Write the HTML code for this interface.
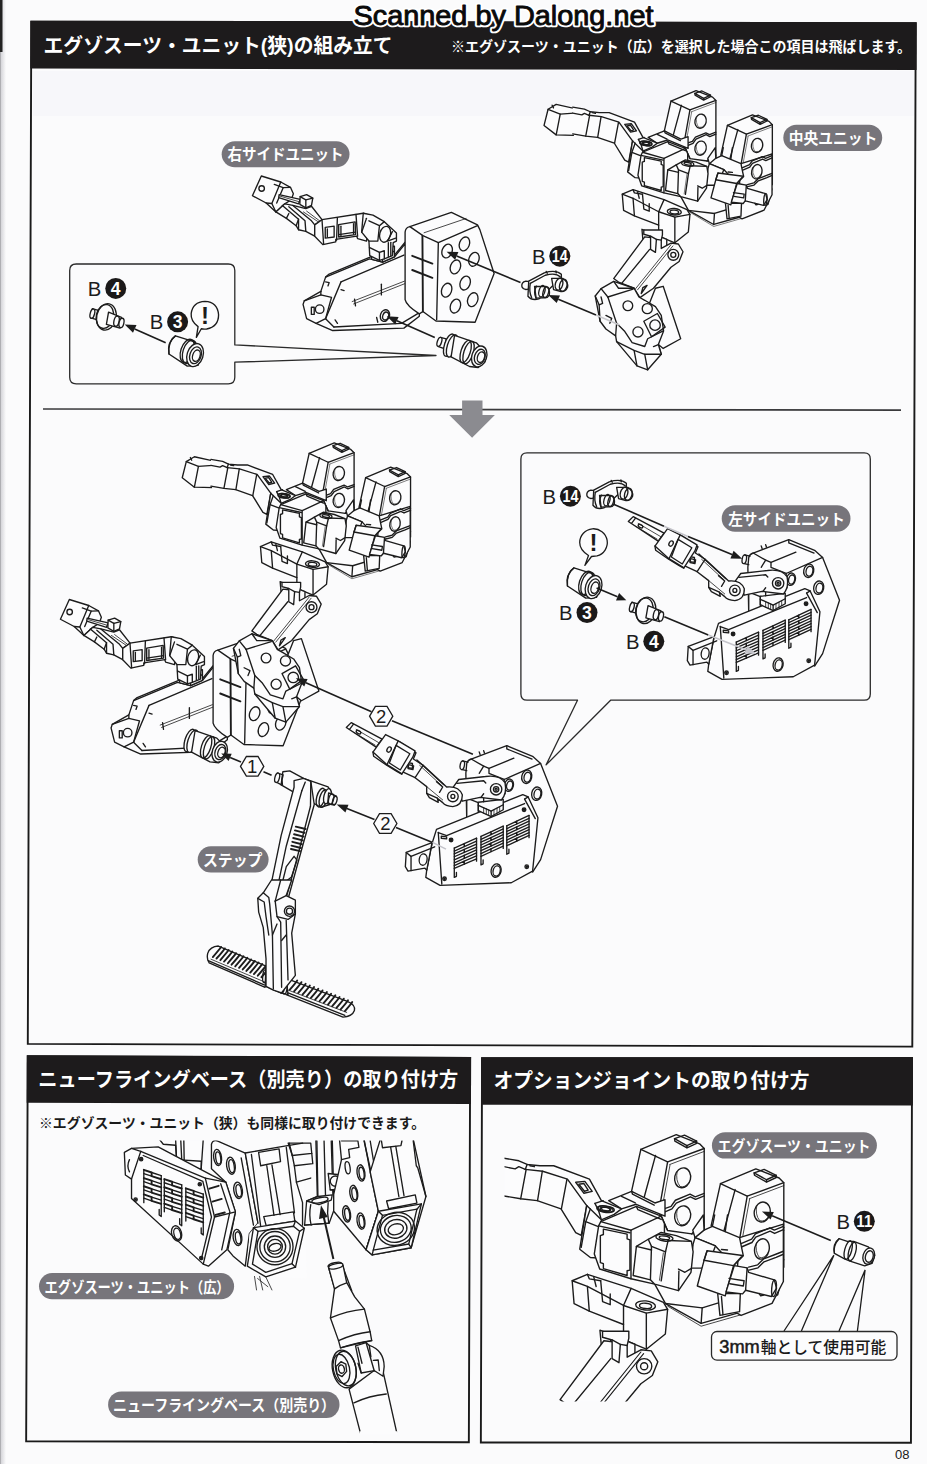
<!DOCTYPE html>
<html lang="ja"><head><meta charset="utf-8"><title>Scanned by Dalong.net - 08</title>
<style>
html,body{margin:0;padding:0;background:#fbfbfc;}
body{width:927px;height:1464px;overflow:hidden;font-family:"Liberation Sans",sans-serif;}
#page{position:relative;width:927px;height:1464px;overflow:hidden;}
#page svg{position:absolute;left:0;top:0;display:block}
#page svg text.j{font-family:"Liberation Sans","Noto Sans CJK JP",sans-serif;font-weight:bold}
#page svg text.l{font-family:"Liberation Sans",sans-serif}
#txt div{position:absolute;white-space:nowrap;color:transparent;line-height:1;font-family:"Liberation Sans",sans-serif;pointer-events:none}
</style></head><body>
<div id="page">
<svg width="927" height="1464" viewBox="0 0 927 1464" font-family="Liberation Sans, sans-serif">
<rect width="927" height="1464" fill="#fbfbfc"/>
<defs><linearGradient id="lg" x1="0" x2="1" y1="0" y2="0"><stop offset="0" stop-color="#9a9a9e"/><stop offset="0.25" stop-color="#d9d9dd"/><stop offset="1" stop-color="#fbfbfc"/></linearGradient></defs>
<rect x="0" y="0" width="6" height="1464" fill="url(#lg)"/>
<rect x="0" y="0" width="2.5" height="52" fill="#222"/>
<rect x="33" y="71" width="881" height="45" fill="#f7f7fa"/>
<polygon points="31.3,21.6 915.7,23.2 912.3,1046.6 27.8,1043.9" fill="none" stroke="#1a1a1a" stroke-width="1.9" stroke-linejoin="miter"/>
<polygon points="30.4,20.7 916.7,22.3 916.55,70.1 30.25,68.6" fill="#1d1b1c"/>
<line x1="43" y1="409.0" x2="901" y2="410.1" stroke="#3a3a3c" stroke-width="1.7"/>
<polygon points="462.1,400.4 482.5,400.4 482.5,415 494.9,415 472.1,437.8 449.2,415 462.1,415" fill="#8b8b90"/>
<polygon points="27.75,1056.2 470.15,1057.9 468.85,1442.3 26.15,1441.3" fill="none" stroke="#1a1a1a" stroke-width="1.9"/>
<polygon points="26.8,1055.2 471.1,1056.9 471.0,1104.1 26.7,1102.8" fill="#1d1b1c"/>
<polygon points="482.05,1058.2 912.05,1058.1 910.95,1442.7 480.85,1442.5" fill="none" stroke="#1a1a1a" stroke-width="1.9"/>
<polygon points="481.1,1057.2 913.0,1057.1 912.9,1105.5 481.0,1104.8" fill="#1d1b1c"/>
<text class="j" x="43.5" y="52.5" font-size="20" fill="#fff" textLength="349" lengthAdjust="spacingAndGlyphs">エグゾスーツ・ユニット(狭)の組み立て</text>
<text class="j" x="451" y="51.9" font-size="14.3" fill="#fff" textLength="460" lengthAdjust="spacingAndGlyphs">※エグゾスーツ・ユニット（広）を選択した場合この項目は飛ばします。</text>
<text class="j" x="38.3" y="1087.2" font-size="20.5" fill="#fff" textLength="420" lengthAdjust="spacingAndGlyphs">ニューフライングベース（別売り）の取り付け方</text>
<text class="j" x="493.5" y="1087.6" font-size="20.5" fill="#fff" textLength="316" lengthAdjust="spacingAndGlyphs">オプションジョイントの取り付け方</text>
<text class="j" x="39" y="1128.4" font-size="14.1" fill="#1a1a1a" textLength="386" lengthAdjust="spacingAndGlyphs">※エグゾスーツ・ユニット（狭）も同様に取り付けできます。</text>
<g transform="translate(290,200) scale(0.23732)" fill="none" stroke="#1c1c1c" stroke-width="5.69" stroke-linejoin="round" stroke-linecap="round">
<path d="M150,325 L335,248 L345,250 L390,262 L440,240 L485,185 L545,300 L545,490 L480,540 L180,550 L110,520 L70,500 L55,440 L60,425 L130,385 Z" fill="#fcfcfd"/>
<path d="M150,325 L165,312 L340,240"/>
<path d="M440,232 L485,178"/>
<path d="M215,345 L150,500 L110,520"/>
<path d="M215,345 L480,232"/>
<path d="M185,535 L470,520 L540,478"/>
<path d="M150,500 L185,535"/>
<path d="M60,425 L130,400 L175,410 L150,500"/>
<path d="M130,385 L130,400"/>
<circle cx="125" cy="460" r="18" fill="none"/>
<path d="M90,452 L102,452 L102,482 L90,482 Z"/>
<path d="M150,345 L165,348 L160,362"/>
<path d="M262,428 L482,342 M268,438 L485,352" stroke-width="3.37"/>
<path d="M385,355 L385,400"/>
<path d="M272,418 L276,446"/>
<ellipse cx="400" cy="487" rx="19" ry="25" transform="rotate(20 400 487)" fill="none"/>
<ellipse cx="403" cy="489" rx="12" ry="17" transform="rotate(20 403 489)" fill="none"/>
<path d="M215,378 L228,382"/>
<path d="M190,505 L200,520"/>
<path d="M365,495 L370,515"/>
<path d="M335,200 L345,250 L390,262 L440,240 L440,195 Z" fill="#fcfcfd"/>
<path d="M345,225 L390,238 L440,215"/>
<path d="M390,238 L390,262"/>
<path d="M485,135 Q487,115 505,112 L680,52 L790,105 L800,125 L860,310 L780,515 L615,510 L560,470 L545,480 Q490,445 485,420 Z" fill="#fcfcfd"/>
<path d="M558,150 L560,470" stroke-width="8.01"/>
<path d="M505,112 L560,150 L625,180 L790,108"/>
<path d="M625,180 L618,505"/>
<path d="M565,138 L742,78" stroke-width="3.37"/>
<path d="M515,235 L600,268" stroke-width="8.01"/>
<path d="M515,295 L600,328" stroke-width="8.01"/>
<ellipse cx="662" cy="215" rx="21" ry="30" transform="rotate(20 662 215)" fill="none"/>
<ellipse cx="735" cy="185" rx="21" ry="30" transform="rotate(20 735 185)" fill="none"/>
<ellipse cx="775" cy="250" rx="21" ry="30" transform="rotate(20 775 250)" fill="none"/>
<ellipse cx="697" cy="282" rx="21" ry="30" transform="rotate(20 697 282)" fill="none"/>
<ellipse cx="738" cy="350" rx="21" ry="30" transform="rotate(20 738 350)" fill="none"/>
<ellipse cx="660" cy="380" rx="21" ry="30" transform="rotate(20 660 380)" fill="none"/>
<ellipse cx="770" cy="420" rx="21" ry="30" transform="rotate(20 770 420)" fill="none"/>
<ellipse cx="697" cy="447" rx="21" ry="30" transform="rotate(20 697 447)" fill="none"/>
</g>
<line x1="520.5" y1="282.6" x2="456.7" y2="255.9" stroke="#1c1c1c" stroke-width="1.6"/><polygon points="446.6,251.7 458.4,252.1 455.1,259.8" fill="#1c1c1c"/>
<line x1="434.8" y1="337.6" x2="396.9" y2="320.8" stroke="#1c1c1c" stroke-width="1.6"/><polygon points="386.8,316.3 398.6,316.9 395.2,324.6" fill="#1c1c1c"/>
<g transform="translate(250,165) scale(0.16181)" fill="none" stroke="#1c1c1c" stroke-width="8.34" stroke-linejoin="round" stroke-linecap="round">
<path d="M15,190 L70,68 L190,105 L250,138 L268,178 L255,215 L215,240 L160,290 L100,235 Z" fill="#fcfcfd"/>
<path d="M190,105 L135,238 L100,235"/>
<path d="M135,238 L160,290"/>
<circle cx="72" cy="145" r="17" fill="none"/>
<path d="M150,120 L205,140 L250,138"/>
<path d="M205,140 L165,235"/>
<path d="M180,183 L310,213 L300,240 L178,202 Z" fill="#fcfcfd"/>
<path d="M185,192 L300,226" stroke-width="4.94"/>
<path d="M310,195 L350,183 L388,205 L380,250 L345,265 L308,243 Z" fill="#fcfcfd"/>
<path d="M310,195 L345,215 L388,205"/>
<path d="M345,215 L345,265"/>
<path d="M215,240 L265,250 L345,270 L380,255 L445,338 L400,370 L400,440 L345,410 L300,400 L285,375 L225,330 L160,290 Z" fill="#fcfcfd"/>
<path d="M200,250 L300,335 L300,400"/>
<path d="M240,258 L340,345 L345,410"/>
<path d="M265,250 L380,345 L400,370"/>
<path d="M225,330 L240,300"/>
<path d="M285,375 L300,335"/>
<path d="M330,290 L420,350" stroke-width="4.94"/>
<path d="M350,285 L430,345" stroke-width="4.94"/>
<path d="M400,370 L445,338 L700,298 L745,315 L720,470 L665,455 L660,440 L530,460 L530,475 L450,492 L400,440 Z" fill="#fcfcfd"/>
<path d="M445,338 L455,490"/>
<path d="M540,325 L535,465"/>
<path d="M655,305 L665,440"/>
<path d="M465,385 L520,378 L520,445 L465,452 Z"/>
<path d="M478,395 L478,445"/>
<path d="M548,368 L650,352 L652,430 L548,445 Z"/>
<path d="M562,378 L562,438"/>
<path d="M640,362 L640,428"/>
<path d="M548,430 L652,415"/>
<path d="M700,298 L760,310 L830,350 L905,420 L905,470 L885,480 L880,560 L830,580 L800,590 L740,560 L735,470 L690,415 Z" fill="#fcfcfd"/>
<ellipse cx="835" cy="428" rx="33" ry="50" transform="rotate(15 835 428)" fill="none"/>
<path d="M880,412 L850,470 L900,452"/>
<path d="M720,330 L690,415"/>
<path d="M735,345 L800,375 L790,470 L735,470"/>
<path d="M800,375 L830,350"/>
<path d="M740,510 L800,540 L830,530 L830,580"/>
<path d="M800,540 L800,590"/>
<path d="M855,480 L855,565"/>
<path d="M870,478 L870,560"/>
</g>
<g transform="translate(420,250) scale(0.19417)" fill="none" stroke="#1c1c1c" stroke-width="6.95" stroke-linejoin="round" stroke-linecap="round">
<path d="M545,160 Q520,165 525,190 Q535,210 560,200 L575,165 Z" fill="#fcfcfd"/>
<path d="M560,160 L640,118 Q700,100 728,125 L728,142 L612,252 Q575,262 556,238 Z" fill="#fcfcfd"/>
<path d="M568,172 L645,130 Q700,115 722,138"/>
<path d="M568,172 Q560,215 575,245"/>
<path d="M650,110 L655,120"/>
<path d="M700,108 L702,118"/>
<path d="M678,146 L735,146 Q765,165 760,192 Q750,216 726,214 L688,204 Z" fill="#fcfcfd"/>
<ellipse cx="738" cy="182" rx="19" ry="31" transform="rotate(15 738 182)" fill="none"/>
<ellipse cx="716" cy="176" rx="19" ry="31" transform="rotate(15 716 176)" fill="none"/>
<path d="M590,188 L650,188 Q672,203 666,232 Q655,250 638,246 L598,248 Z" fill="#fcfcfd"/>
<ellipse cx="648" cy="217" rx="14" ry="28" transform="rotate(15 648 217)" fill="none"/>
<ellipse cx="628" cy="212" rx="15" ry="30" transform="rotate(15 628 212)" fill="none"/>
<path d="M600,186 Q582,215 598,250"/>
</g>
<g transform="translate(420,250) scale(0.19417)" fill="none" stroke="#1c1c1c" stroke-width="6.95" stroke-linejoin="round" stroke-linecap="round">
<path d="M105,450 L135,458 L125,508 L95,498 Z" fill="#fcfcfd"/>
<ellipse cx="100" cy="473" rx="11" ry="24" transform="rotate(18 100 473)" fill="#fcfcfd"/>
<ellipse cx="150" cy="490" rx="24" ry="60" transform="rotate(18 150 490)" fill="#fcfcfd"/>
<ellipse cx="165" cy="494" rx="24" ry="60" transform="rotate(18 165 494)" fill="#fcfcfd"/>
<path d="M178,440 L290,478 L330,520 L335,575 L300,605 L255,600 L160,550 Z" fill="#fcfcfd"/>
<ellipse cx="235" cy="523" rx="24" ry="60" transform="rotate(18 235 523)" fill="#fcfcfd"/>
<ellipse cx="250" cy="528" rx="24" ry="60" transform="rotate(18 250 528)" fill="none"/>
<ellipse cx="305" cy="548" rx="38" ry="55" transform="rotate(18 305 548)" fill="#fcfcfd"/>
<ellipse cx="308" cy="550" rx="27" ry="40" transform="rotate(18 308 550)" fill="none"/>
<ellipse cx="314" cy="552" rx="18" ry="28" transform="rotate(18 314 552)" fill="none"/>
</g>
<line x1="596.0" y1="315.0" x2="558.3" y2="299.2" stroke="#1c1c1c" stroke-width="1.6"/><polygon points="548.2,295.0 560.0,295.4 556.7,303.1" fill="#1c1c1c"/>
<text class="l" x="531.9" y="263.6" font-size="20.3" fill="#1c1c1c">B</text><circle cx="559.8" cy="256.2" r="10.5" fill="#1b1919" stroke="none"/><text class="l" x="551.8" y="262.1" font-size="16.5" font-weight="bold" fill="#fff" textLength="16" lengthAdjust="spacingAndGlyphs">14</text>
<path d="M234.8,344.9 L234.8,270.5 Q234.8,264 228.3,264 L76.2,264 Q69.7,264 69.7,270.5 L69.7,377.3 Q69.7,383.8 76.2,383.8 L228.3,383.8 Q234.8,383.8 234.8,377.3 L234.8,362.2 L436,355.5 Z" fill="none" stroke="#2a2a2a" stroke-width="1.3" stroke-linejoin="round"/>
<g transform="translate(60,250) scale(0.21575)" fill="none" stroke="#1c1c1c" stroke-width="6.26" stroke-linejoin="round" stroke-linecap="round">
<path d="M150,272 L185,282 L178,325 L142,315 Z" fill="#fcfcfd"/>
<ellipse cx="150" cy="295" rx="10" ry="22" transform="rotate(15 150 295)" fill="#fcfcfd"/>
<ellipse cx="215" cy="310" rx="45" ry="62" transform="rotate(12 215 310)" fill="#fcfcfd"/>
<ellipse cx="208" cy="308" rx="40" ry="56" transform="rotate(12 208 308)" fill="none"/>
<path d="M225,288 L285,312 L278,362 L215,345 Z" fill="#fcfcfd"/>
<ellipse cx="262" cy="330" rx="12" ry="24" transform="rotate(12 262 330)" fill="none"/>
<ellipse cx="285" cy="338" rx="11" ry="22" transform="rotate(12 285 338)" fill="#fcfcfd"/>
</g>
<g transform="translate(60,250) scale(0.21575)" fill="none" stroke="#1c1c1c" stroke-width="6.26" stroke-linejoin="round" stroke-linecap="round">
<path d="M535,398 L620,425 L660,470 L640,535 L590,538 L505,482 Q495,430 535,398 Z" fill="#fcfcfd"/>
<path d="M535,398 Q500,420 505,482"/>
<ellipse cx="590" cy="468" rx="30" ry="56" transform="rotate(18 590 468)" fill="none"/>
<ellipse cx="600" cy="472" rx="30" ry="56" transform="rotate(18 600 472)" fill="none"/>
<ellipse cx="626" cy="487" rx="37" ry="55" transform="rotate(18 626 487)" fill="#fcfcfd"/>
<ellipse cx="628" cy="488" rx="26" ry="40" transform="rotate(18 628 488)" fill="none"/>
<ellipse cx="632" cy="490" rx="17" ry="27" transform="rotate(18 632 490)" fill="none"/>
</g>
<g transform="translate(60,250) scale(0.21575)" fill="none" stroke="#1c1c1c" stroke-width="6.26" stroke-linejoin="round" stroke-linecap="round">
<path d="M640,355 Q605,330 608,295 Q615,240 672,238 Q730,240 735,300 Q735,355 680,366 Q665,368 655,365 L632,405 Z" fill="#fcfcfd"/>
</g>
<line x1="165.7" y1="342.8" x2="134.7" y2="328.9" stroke="#1c1c1c" stroke-width="1.6"/><polygon points="124.7,324.4 136.5,325.1 133.0,332.7" fill="#1c1c1c"/>
<text class="l" x="87.85" y="295.8" font-size="20.3" fill="#1c1c1c">B</text><circle cx="115.75" cy="288.4" r="10.5" fill="#1b1919" stroke="none"/><text class="l" x="110.86" y="294.7" font-size="17.6" font-weight="bold" fill="#fff">4</text>
<text class="l" x="149.7" y="329.2" font-size="20.3" fill="#1c1c1c">B</text><circle cx="177.6" cy="321.8" r="10.5" fill="#1b1919" stroke="none"/><text class="l" x="172.71" y="328.1" font-size="17.6" font-weight="bold" fill="#fff">3</text>
<text class="l" x="201" y="324" font-size="24" font-weight="bold" fill="#1c1c1c">!</text>
<g transform="translate(0,0) scale(0.70922) translate(305.2,-1006.9)"><g transform="translate(590,1200) scale(0.21575)" fill="none" stroke="#1c1c1c" stroke-width="8.82" stroke-linejoin="round" stroke-linecap="round">
<path d="M300,390 L350,480 L515,572 L700,520 L870,440 L895,340 L700,250 L420,250 Z" fill="#fcfcfd"/>
<path d="M350,480 L520,500 L515,572"/>
<path d="M520,500 L690,448 L700,520"/>
<path d="M360,492 L515,585 L700,532" stroke-width="3.71"/>
</g><g transform="translate(640,1120) scale(0.17260)" fill="none" stroke="#1c1c1c" stroke-width="11.03" stroke-linejoin="round" stroke-linecap="round">
<path d="M5,170 L210,85 L345,138 L372,165 L372,655 L300,660 L160,640 L110,525 L-49,414 Z" fill="#fcfcfd"/>
<path d="M5,170 L160,243 L372,165"/>
<path d="M172,258 L372,182" stroke-width="4.64"/>
<path d="M200,108 L258,88 L328,122 L272,148 Z"/>
<path d="M200,108 L202,122 L272,162 L272,148 M272,162 L328,135 L328,122"/>
<path d="M160,243 L110,525"/>
<path d="M174,260 L126,520" stroke-width="4.64"/>
<path d="M90,205 L25,445"/>
<path d="M110,525 L180,500 L205,465 L290,430 L320,445 L372,425"/>
<path d="M115,545 L185,515 L210,482 L292,445 L322,460 L372,440"/>
<ellipse cx="247" cy="335" rx="46" ry="58" transform="rotate(12 247 335)" fill="none"/>
<path d="M215,300 Q205,350 232,385 Q262,395 285,360" stroke-width="4.64"/>
<ellipse cx="247" cy="555" rx="46" ry="58" transform="rotate(12 247 555)" fill="none"/>
<path d="M215,520 Q205,570 232,605 Q262,615 285,580" stroke-width="4.64"/>
<path d="M300,660 L330,625 L372,612"/>
<path d="M115,545 L160,640"/>
</g><g transform="translate(79.6,34.2)"><g transform="translate(640,1120) scale(0.17260)" fill="none" stroke="#1c1c1c" stroke-width="11.03" stroke-linejoin="round" stroke-linecap="round">
<path d="M5,170 L210,85 L345,138 L372,165 L372,655 L300,660 L160,640 L110,525 L-49,414 Z" fill="#fcfcfd"/>
<path d="M5,170 L160,243 L372,165"/>
<path d="M172,258 L372,182" stroke-width="4.64"/>
<path d="M200,108 L258,88 L328,122 L272,148 Z"/>
<path d="M200,108 L202,122 L272,162 L272,148 M272,162 L328,135 L328,122"/>
<path d="M160,243 L110,525"/>
<path d="M174,260 L126,520" stroke-width="4.64"/>
<path d="M90,205 L25,445"/>
<path d="M110,525 L180,500 L205,465 L290,430 L320,445 L372,425"/>
<path d="M115,545 L185,515 L210,482 L292,445 L322,460 L372,440"/>
<ellipse cx="247" cy="335" rx="46" ry="58" transform="rotate(12 247 335)" fill="none"/>
<path d="M215,300 Q205,350 232,385 Q262,395 285,360" stroke-width="4.64"/>
<ellipse cx="247" cy="555" rx="46" ry="58" transform="rotate(12 247 555)" fill="none"/>
<path d="M215,520 Q205,570 232,605 Q262,615 285,580" stroke-width="4.64"/>
<path d="M300,660 L330,625 L372,612"/>
<path d="M115,545 L160,640"/>
</g></g><g transform="translate(655,1215) scale(0.15102)" fill="none" stroke="#1c1c1c" stroke-width="12.60" stroke-linejoin="round" stroke-linecap="round">
<path d="M560,150 L850,60 L850,440 L775,585 L570,665 L525,640 Z" fill="#fcfcfd"/>
<path d="M570,190 L640,160 L665,125 L760,85 L790,100 L850,75"/>
<path d="M572,212 L642,182 L667,147 L762,107 L792,122 L850,97"/>
<ellipse cx="708" cy="225" rx="48" ry="68" transform="rotate(12 708 225)" fill="none"/>
<path d="M672,185 Q662,240 690,280 Q725,292 748,250" stroke-width="5.30"/>
<path d="M620,345 L680,330 L720,290 L800,260 L850,240"/>
<path d="M622,365 L682,350 L722,310 L802,280 L850,260"/>
<path d="M320,0 L325,100 L380,75 L560,150 L570,200 L585,270 L520,335 L400,205 L265,150 L250,100 Z" fill="#fcfcfd"/>
<path d="M380,75 L395,0"/>
<path d="M480,0 L465,110"/>
<path d="M325,100 L265,150"/>
<path d="M265,150 L400,205 L345,352 L235,352 L250,200 Z" fill="#fcfcfd"/>
<path d="M250,200 L235,352"/>
<path d="M415,520 L430,665 L560,640 L565,520 Z" fill="#fcfcfd"/>
<path d="M440,540 L450,660"/>
<path d="M345,237 L580,268 L520,335 L465,535 L280,470 L325,300 Z" fill="#fcfcfd"/>
<path d="M325,300 L520,335"/>
<path d="M345,237 L325,300"/>
<path d="M440,228 L480,232"/>
<path d="M525,335 L610,350 L620,380 L790,430 L805,485 L770,540 L600,498 L580,522 L470,510 Z" fill="#fcfcfd"/>
<path d="M490,420 L590,435 L585,470 L495,455"/>
<path d="M610,350 L600,498"/>
<ellipse cx="788" cy="485" rx="15" ry="55" transform="rotate(5 788 485)" fill="none"/>
<path d="M690,520 L700,535 L720,530"/>
</g><clipPath id="cliptip"><rect x="380" y="1100" width="124" height="200"/></clipPath><g clip-path="url(#cliptip)"><g transform="translate(-305.2,1006.9) scale(1.41)"><g transform="translate(540,85) scale(0.26969)" fill="none" stroke="#1c1c1c" stroke-width="5.01" stroke-linejoin="round" stroke-linecap="round">
<path d="M15,150 L30,90 L60,72 L185,100 L305,118 L350,145 L362,170 L385,200 L385,250 L345,245 L335,300 L290,240 L250,200 L175,188 L60,185 Z" fill="#fcfcfd"/>
<path d="M30,90 L75,108 L185,100"/>
<path d="M75,108 L60,185"/>
<path d="M45,75 L50,85"/>
<path d="M185,100 L175,188"/>
<path d="M232,108 L220,195"/>
<path d="M303,118 L290,240"/>
<path d="M200,98 L205,105"/>
<path d="M322,150 L355,160 L350,182 L318,172 Z"/>
<path d="M330,158 L345,163 L342,175"/>
<path d="M350,145 L335,215 L290,240"/>
</g></g></g><g transform="translate(495,1130) scale(0.18339)" fill="none" stroke="#1c1c1c" stroke-width="10.38" stroke-linejoin="round" stroke-linecap="round">
<path d="M620,385 L745,335 L872,398 L927,380 L927,470 L770,405 L690,430 Z" fill="#fcfcfd"/>
<path d="M745,335 L750,350 L868,410"/>
<path d="M690,362 L765,398"/>
<path d="M40,152 L130,168 L175,188 L245,195 L320,195 L515,268 L580,385 L690,430 L650,460 L580,490 L500,412 L470,575 L440,560 L360,430 L230,385 L140,375 L40,358 Z" stroke="none" fill="#fcfcfd"/>
<path d="M40,152 L130,168 L175,188 L245,195 L320,195 L515,268 L580,385 L690,430 L650,460 L580,490"/>
<path d="M500,412 L470,575 L440,560 L360,430 L230,385 L140,375 L40,358"/>
<path d="M165,215 L260,225 L395,268 L480,385 L500,412"/>
<path d="M40,198 L110,212 L130,200 L165,215"/>
<path d="M175,188 L165,215"/>
<path d="M170,215 L140,375"/>
<path d="M258,225 L232,385"/>
<path d="M392,270 L362,430"/>
<path d="M440,285 L490,280 L530,335 L485,345 Z"/>
<path d="M457,296 L485,292 L508,328 L488,334 Z"/>
<path d="M190,195 L215,200"/>
<ellipse cx="600" cy="432" rx="45" ry="17" transform="rotate(8 600 432)" fill="none"/>
<ellipse cx="600" cy="432" rx="27" ry="10" transform="rotate(8 600 432)" fill="none"/>
<path d="M545,400 L590,385"/>
<path d="M580,490 L565,440 L545,400"/>
<path d="M500,412 L462,650 L520,695 L585,700 L580,490 Z" fill="#fcfcfd"/>
<path d="M520,430 L495,500 L560,525"/>
<path d="M495,500 L470,640"/>
</g><g transform="translate(590,1200) scale(0.21575)" fill="none" stroke="#1c1c1c" stroke-width="8.82" stroke-linejoin="round" stroke-linecap="round">
<path d="M40,120 L50,100 L215,30 L330,75 L345,110 L345,330 L300,390 L190,365 L45,320 L20,250 Z" fill="#fcfcfd"/>
<path d="M50,100 L190,140 L330,75"/>
<path d="M190,140 L190,365"/>
<path d="M40,120 L185,152"/>
<path d="M62,135 L62,160 L48,165 L48,290 L62,295 L62,318 L172,350 L172,328 L185,325 L185,185 L172,180 L172,158 Z" stroke-linejoin="round"/>
<path d="M215,30 L222,45 L330,90"/>
<ellipse cx="75" cy="42" rx="38" ry="14" transform="rotate(8 75 42)" fill="none"/>
<ellipse cx="75" cy="42" rx="22" ry="8" transform="rotate(8 75 42)" fill="none"/>
<path d="M270,182 L330,150 L400,165 L470,192 L478,240 L468,335 L410,420 L300,390 L280,370 L200,350 L215,215 Z" fill="#fcfcfd"/>
<ellipse cx="345" cy="175" rx="40" ry="15" transform="rotate(8 345 175)" fill="none"/>
<ellipse cx="345" cy="175" rx="24" ry="8" transform="rotate(8 345 175)" fill="none"/>
<path d="M270,182 L285,215 L350,240 L362,188"/>
<path d="M285,215 L280,370"/>
<path d="M350,240 L330,375"/>
<path d="M340,245 L322,372" stroke-width="3.71"/>
<path d="M215,215 L285,232"/>
<path d="M362,188 L470,192"/>
<path d="M410,320 L440,335 L468,318"/>
<path d="M410,420 L412,330"/>
</g><g transform="translate(-305.2,1006.9) scale(1.41)"><g transform="translate(540,85) scale(0.26969)" fill="none" stroke="#1c1c1c" stroke-width="5.01" stroke-linejoin="round" stroke-linecap="round">
<path d="M305,405 L345,388 L460,425 L545,462 L556,480 L550,545 L500,585 L440,560 L440,520 L350,485 L310,465 Z" fill="#fcfcfd"/>
<path d="M305,405 L345,420 L440,470 L500,490 L556,480"/>
<path d="M345,420 L350,485"/>
<path d="M440,470 L440,520"/>
<path d="M500,490 L500,585"/>
<ellipse cx="498" cy="470" rx="26" ry="12" transform="rotate(5 498 470)" fill="none"/>
<ellipse cx="498" cy="471" rx="16" ry="7" transform="rotate(5 498 471)" fill="none"/>
<path d="M380,405 L385,460 L405,468 L405,440"/>
<path d="M345,388 L350,400 L380,405"/>
<path d="M362,396 L368,420"/>
<path d="M460,425 L440,470"/>
<path d="M378,535 L385,612 L470,612 L470,572 Z" fill="#fcfcfd"/>
<path d="M405,545 L410,612"/>
</g><g transform="translate(570,230) scale(0.19417)" fill="none" stroke="#1c1c1c" stroke-width="6.95" stroke-linejoin="round" stroke-linecap="round">
<path d="M440,300 L480,290 L570,560 L480,610 L455,590 L400,400 Z" fill="#fcfcfd"/>
<path d="M455,590 L470,640"/>
<path d="M385,35 L225,250 L250,268 L330,300 L360,348 L430,300 L520,192 L562,162 L582,112 L558,72 L520,68 L470,95 L470,45 Z" fill="#fcfcfd"/>
<path d="M410,100 L262,280"/>
<path d="M520,76 L338,302 M530,82 L348,308" stroke-width="4.12"/>
<circle cx="532" cy="128" r="28" fill="none"/>
<circle cx="532" cy="128" r="13" fill="none"/>
<path d="M375,297 L397,285 L367,327 Z"/>
<path d="M380,0 L380,22 L415,32 L415,100 L440,115 L445,48 L470,52 L476,25 L476,0 Z" fill="#fcfcfd"/>
<path d="M415,32 L445,48"/>
<path d="M130,340 L160,302 L225,265 L330,300 L355,345 L385,362 L440,395 L470,440 L482,520 L455,590 L470,640 L400,720 L345,700 L240,575 L235,545 L185,510 L155,470 Z" fill="#fcfcfd"/>
<path d="M195,345 L325,305"/>
<path d="M195,345 L240,480 L280,520 L320,580 L385,600 L400,560 L480,520"/>
<path d="M160,302 L195,345"/>
<path d="M240,480 L235,545"/>
<circle cx="298" cy="390" r="25" fill="none"/>
<circle cx="398" cy="405" r="26" fill="none"/>
<circle cx="438" cy="490" r="27" fill="none"/>
<circle cx="350" cy="525" r="26" fill="none"/>
<path d="M380,470 L450,430 L490,500 L420,550 Z"/>
<path d="M330,620 L345,700"/>
<path d="M385,640 L400,720"/>
<path d="M240,575 L330,620 L385,640 L470,640"/>
<path d="M430,600 L455,590"/>
<path d="M130,340 L150,385 L168,378 L160,345"/>
<path d="M150,385 L155,470"/>
<path d="M185,440 L215,455 L205,480"/>
<path d="M225,265 L250,300 L330,300"/>
</g></g></g>
<line x1="596" y1="315" x2="619.5" y2="325.1" stroke="#c8c8cc" stroke-width="1.6"/>
<g transform="translate(400,735) scale(0.17799)" fill="none" stroke="#1c1c1c" stroke-width="7.58" stroke-linejoin="round" stroke-linecap="round">
<path d="M370,215 L375,160 Q380,140 400,135 L600,60 L745,120 L790,160 L885,400 L790,700 L745,770 L700,500 L440,480 L375,480 Z" fill="#fcfcfd"/>
<path d="M400,135 L470,175 L445,215"/>
<path d="M470,175 L500,188 L640,130"/>
<path d="M500,188 L500,215 L585,250 L790,160"/>
<path d="M600,62 L600,78 L742,135"/>
<path d="M585,250 L590,330"/>
<ellipse cx="350" cy="170" rx="12" ry="25" transform="rotate(10 350 170)" fill="#fcfcfd"/>
<path d="M352,146 L382,152 M350,195 L375,200"/>
<path d="M445,95 L450,110 M470,88 L475,102"/>
<ellipse cx="612" cy="282" rx="25" ry="35" transform="rotate(12 612 282)" fill="none"/>
<ellipse cx="712" cy="235" rx="28" ry="38" transform="rotate(12 712 235)" fill="none"/>
<ellipse cx="768" cy="330" rx="28" ry="38" transform="rotate(12 768 330)" fill="none"/>
<ellipse cx="616" cy="284" rx="17" ry="26" transform="rotate(12 616 284)" fill="none"/>
<ellipse cx="716" cy="237" rx="19" ry="28" transform="rotate(12 716 237)" fill="none"/>
<ellipse cx="772" cy="332" rx="19" ry="28" transform="rotate(12 772 332)" fill="none"/>
<path d="M375,355 L375,485 L440,460 L440,380 Z" fill="#fcfcfd"/>
<path d="M205,530 L690,335 L720,348 L775,465 L745,765 L625,830 L225,845 L145,800 L150,760 L180,610 Z" fill="#fcfcfd"/>
<path d="M215,548 L235,838"/>
<path d="M262,565 L700,385"/>
<path d="M700,360 L760,470"/>
<path d="M215,548 L262,565"/>
<path d="M720,348 L700,360"/>
<circle cx="287" cy="590" r="10" fill="none"/>
<circle cx="697" cy="420" r="10" fill="none"/>
<circle cx="712" cy="740" r="10" fill="none"/>
<circle cx="250" cy="808" r="10" fill="none"/>
<circle cx="287" cy="590" r="4" fill="none"/>
<circle cx="697" cy="420" r="4" fill="none"/>
<circle cx="712" cy="740" r="4" fill="none"/>
<circle cx="250" cy="808" r="4" fill="none"/>
<path d="M232,568 L262,572 L262,584 L232,580 Z"/>
<ellipse cx="540" cy="762" rx="28" ry="38" transform="rotate(12 540 762)" fill="none"/>
<ellipse cx="543" cy="764" rx="20" ry="29" transform="rotate(12 543 764)" fill="none"/>
<path d="M180,605 L35,660 L30,740 L45,765 L140,748 L150,760 Z" fill="#fcfcfd"/>
<path d="M35,660 L62,682 L195,628"/>
<path d="M62,682 L62,762"/>
<ellipse cx="130" cy="700" rx="22" ry="32" transform="rotate(10 130 700)" fill="none"/>
<path d="M305,635 L305,800 L317,794 L317,772"/>
<path d="M430,580 L430,709"/>
<path d="M305,635 L361,610 L361,627 L430,596"/>
<path d="M305,652 L361,627 M361,610 L430,580"/>
<path d="M305,668 L361,643 L361,660 L430,630"/>
<path d="M305,684 L361,660 M361,643 L430,613"/>
<path d="M305,701 L361,676 L361,693 L430,662"/>
<path d="M305,718 L361,693 M361,676 L430,646"/>
<path d="M305,734 L361,709 L361,726 L430,696"/>
<path d="M305,750 L361,726 M361,709 L430,679"/>
<path d="M455,570 L455,730 L467,724 L467,702"/>
<path d="M580,512 L580,637"/>
<path d="M455,570 L511,544 L511,560 L580,528"/>
<path d="M455,586 L511,560 M511,544 L580,512"/>
<path d="M455,602 L511,576 L511,592 L580,560"/>
<path d="M455,618 L511,592 M511,576 L580,544"/>
<path d="M455,634 L511,608 L511,624 L580,592"/>
<path d="M455,650 L511,624 M511,608 L580,576"/>
<path d="M455,666 L511,640 L511,656 L580,624"/>
<path d="M455,682 L511,656 M511,640 L580,608"/>
<path d="M600,510 L600,670 L612,664 L612,642"/>
<path d="M725,452 L725,577"/>
<path d="M600,510 L656,484 L656,500 L725,468"/>
<path d="M600,526 L656,500 M656,484 L725,452"/>
<path d="M600,542 L656,516 L656,532 L725,500"/>
<path d="M600,558 L656,532 M656,516 L725,484"/>
<path d="M600,574 L656,548 L656,564 L725,532"/>
<path d="M600,590 L656,564 M656,548 L725,516"/>
<path d="M600,606 L656,580 L656,596 L725,564"/>
<path d="M600,622 L656,596 M656,580 L725,548"/>
<path d="M440,378 L580,362 L580,420 L512,458 L440,425 Z" fill="#fcfcfd"/>
<path d="M440,395 L512,428 L580,392"/>
<path d="M512,428 L512,458"/>
<path d="M470,408 L470,440 M485,414 L485,447 M498,420 L498,452 M528,420 L528,450 M545,412 L545,442 M560,404 L560,432" stroke-width="4.49"/>
<path d="M455,350 L470,350 L470,375"/>
<path d="M300,292 L330,250 L480,233 Q560,222 590,268 Q602,330 570,365 L450,350 L350,372 Z" fill="#fcfcfd"/>
<path d="M320,272 L470,257 L482,270"/>
<path d="M455,350 L470,330"/>
<circle cx="540" cy="305" r="32" fill="none"/>
<circle cx="540" cy="305" r="15" fill="none"/>
<circle cx="540" cy="305" r="6" fill="none"/>
<path d="M0,40 L90,100 L75,135 L130,170 L262,292 Q330,285 350,335 Q352,395 297,402 Q255,400 240,380 L210,355 L215,378 L165,352 L150,328 L150,290 L85,240 L0,200 Z" fill="#fcfcfd"/>
<path d="M45,155 L70,160 L70,188 L45,183 Z"/>
<path d="M95,140 L245,278"/>
<path d="M130,170 L85,240"/>
<path d="M205,262 L240,292 L222,322"/>
<path d="M110,170 L235,285 M150,290 L240,365" stroke-width="4.49"/>
<circle cx="297" cy="345" r="30" fill="none"/>
<circle cx="297" cy="345" r="11" fill="none"/>
<path d="M150,328 L210,355"/>
</g><g transform="translate(340,710) scale(0.14024)" fill="none" stroke="#1c1c1c" stroke-width="9.63" stroke-linejoin="round" stroke-linecap="round">
<path d="M45,125 L80,90 L300,207 L258,265 Z" fill="#fcfcfd"/>
<path d="M95,102 L68,138"/>
<path d="M115,138 L275,232 M100,160 L250,250" stroke-width="5.70"/>
<ellipse cx="132" cy="158" rx="18" ry="10" transform="rotate(30 132 158)" fill="none"/>
<path d="M235,300 L325,175 L415,220 L535,292 L520,335 L440,458 L405,438 L330,392 L240,330 Z" fill="#fcfcfd"/>
<path d="M415,220 L335,390"/>
<path d="M235,300 L335,390 L442,455"/>
<ellipse cx="350" cy="282" rx="14" ry="20" transform="rotate(30 350 282)" fill="none"/>
<path d="M400,252 L498,312 L430,428 L352,378 Z"/>
<path d="M490,390 L525,398 L520,425 L485,417 Z"/>
</g>
<g transform="translate(-192,423.5)"><g transform="translate(290,200) scale(0.23732)" fill="none" stroke="#1c1c1c" stroke-width="5.69" stroke-linejoin="round" stroke-linecap="round">
<path d="M150,325 L335,248 L345,250 L390,262 L440,240 L485,185 L545,300 L545,490 L480,540 L180,550 L110,520 L70,500 L55,440 L60,425 L130,385 Z" fill="#fcfcfd"/>
<path d="M150,325 L165,312 L340,240"/>
<path d="M440,232 L485,178"/>
<path d="M215,345 L150,500 L110,520"/>
<path d="M215,345 L480,232"/>
<path d="M185,535 L470,520 L540,478"/>
<path d="M150,500 L185,535"/>
<path d="M60,425 L130,400 L175,410 L150,500"/>
<path d="M130,385 L130,400"/>
<circle cx="125" cy="460" r="18" fill="none"/>
<path d="M90,452 L102,452 L102,482 L90,482 Z"/>
<path d="M150,345 L165,348 L160,362"/>
<path d="M262,428 L482,342 M268,438 L485,352" stroke-width="3.37"/>
<path d="M385,355 L385,400"/>
<path d="M272,418 L276,446"/>
<ellipse cx="400" cy="487" rx="19" ry="25" transform="rotate(20 400 487)" fill="none"/>
<ellipse cx="403" cy="489" rx="12" ry="17" transform="rotate(20 403 489)" fill="none"/>
<path d="M215,378 L228,382"/>
<path d="M190,505 L200,520"/>
<path d="M365,495 L370,515"/>
<path d="M335,200 L345,250 L390,262 L440,240 L440,195 Z" fill="#fcfcfd"/>
<path d="M345,225 L390,238 L440,215"/>
<path d="M390,238 L390,262"/>
<path d="M485,135 Q487,115 505,112 L680,52 L790,105 L800,125 L860,310 L780,515 L615,510 L560,470 L545,480 Q490,445 485,420 Z" fill="#fcfcfd"/>
<path d="M558,150 L560,470" stroke-width="8.01"/>
<path d="M505,112 L560,150 L625,180 L790,108"/>
<path d="M625,180 L618,505"/>
<path d="M565,138 L742,78" stroke-width="3.37"/>
<path d="M515,235 L600,268" stroke-width="8.01"/>
<path d="M515,295 L600,328" stroke-width="8.01"/>
<ellipse cx="662" cy="215" rx="21" ry="30" transform="rotate(20 662 215)" fill="none"/>
<ellipse cx="735" cy="185" rx="21" ry="30" transform="rotate(20 735 185)" fill="none"/>
<ellipse cx="775" cy="250" rx="21" ry="30" transform="rotate(20 775 250)" fill="none"/>
<ellipse cx="697" cy="282" rx="21" ry="30" transform="rotate(20 697 282)" fill="none"/>
<ellipse cx="738" cy="350" rx="21" ry="30" transform="rotate(20 738 350)" fill="none"/>
<ellipse cx="660" cy="380" rx="21" ry="30" transform="rotate(20 660 380)" fill="none"/>
<ellipse cx="770" cy="420" rx="21" ry="30" transform="rotate(20 770 420)" fill="none"/>
<ellipse cx="697" cy="447" rx="21" ry="30" transform="rotate(20 697 447)" fill="none"/>
</g><g transform="translate(250,165) scale(0.16181)" fill="none" stroke="#1c1c1c" stroke-width="8.34" stroke-linejoin="round" stroke-linecap="round">
<path d="M15,190 L70,68 L190,105 L250,138 L268,178 L255,215 L215,240 L160,290 L100,235 Z" fill="#fcfcfd"/>
<path d="M190,105 L135,238 L100,235"/>
<path d="M135,238 L160,290"/>
<circle cx="72" cy="145" r="17" fill="none"/>
<path d="M150,120 L205,140 L250,138"/>
<path d="M205,140 L165,235"/>
<path d="M180,183 L310,213 L300,240 L178,202 Z" fill="#fcfcfd"/>
<path d="M185,192 L300,226" stroke-width="4.94"/>
<path d="M310,195 L350,183 L388,205 L380,250 L345,265 L308,243 Z" fill="#fcfcfd"/>
<path d="M310,195 L345,215 L388,205"/>
<path d="M345,215 L345,265"/>
<path d="M215,240 L265,250 L345,270 L380,255 L445,338 L400,370 L400,440 L345,410 L300,400 L285,375 L225,330 L160,290 Z" fill="#fcfcfd"/>
<path d="M200,250 L300,335 L300,400"/>
<path d="M240,258 L340,345 L345,410"/>
<path d="M265,250 L380,345 L400,370"/>
<path d="M225,330 L240,300"/>
<path d="M285,375 L300,335"/>
<path d="M330,290 L420,350" stroke-width="4.94"/>
<path d="M350,285 L430,345" stroke-width="4.94"/>
<path d="M400,370 L445,338 L700,298 L745,315 L720,470 L665,455 L660,440 L530,460 L530,475 L450,492 L400,440 Z" fill="#fcfcfd"/>
<path d="M445,338 L455,490"/>
<path d="M540,325 L535,465"/>
<path d="M655,305 L665,440"/>
<path d="M465,385 L520,378 L520,445 L465,452 Z"/>
<path d="M478,395 L478,445"/>
<path d="M548,368 L650,352 L652,430 L548,445 Z"/>
<path d="M562,378 L562,438"/>
<path d="M640,362 L640,428"/>
<path d="M548,430 L652,415"/>
<path d="M700,298 L760,310 L830,350 L905,420 L905,470 L885,480 L880,560 L830,580 L800,590 L740,560 L735,470 L690,415 Z" fill="#fcfcfd"/>
<ellipse cx="835" cy="428" rx="33" ry="50" transform="rotate(15 835 428)" fill="none"/>
<path d="M880,412 L850,470 L900,452"/>
<path d="M720,330 L690,415"/>
<path d="M735,345 L800,375 L790,470 L735,470"/>
<path d="M800,375 L830,350"/>
<path d="M740,510 L800,540 L830,530 L830,580"/>
<path d="M800,540 L800,590"/>
<path d="M855,480 L855,565"/>
<path d="M870,478 L870,560"/>
</g></g>
<g transform="translate(-361.8,352.3) scale(0.70922) translate(305.2,-1006.9)"><g transform="translate(590,1200) scale(0.21575)" fill="none" stroke="#1c1c1c" stroke-width="8.82" stroke-linejoin="round" stroke-linecap="round">
<path d="M300,390 L350,480 L515,572 L700,520 L870,440 L895,340 L700,250 L420,250 Z" fill="#fcfcfd"/>
<path d="M350,480 L520,500 L515,572"/>
<path d="M520,500 L690,448 L700,520"/>
<path d="M360,492 L515,585 L700,532" stroke-width="3.71"/>
</g><g transform="translate(640,1120) scale(0.17260)" fill="none" stroke="#1c1c1c" stroke-width="11.03" stroke-linejoin="round" stroke-linecap="round">
<path d="M5,170 L210,85 L345,138 L372,165 L372,655 L300,660 L160,640 L110,525 L-49,414 Z" fill="#fcfcfd"/>
<path d="M5,170 L160,243 L372,165"/>
<path d="M172,258 L372,182" stroke-width="4.64"/>
<path d="M200,108 L258,88 L328,122 L272,148 Z"/>
<path d="M200,108 L202,122 L272,162 L272,148 M272,162 L328,135 L328,122"/>
<path d="M160,243 L110,525"/>
<path d="M174,260 L126,520" stroke-width="4.64"/>
<path d="M90,205 L25,445"/>
<path d="M110,525 L180,500 L205,465 L290,430 L320,445 L372,425"/>
<path d="M115,545 L185,515 L210,482 L292,445 L322,460 L372,440"/>
<ellipse cx="247" cy="335" rx="46" ry="58" transform="rotate(12 247 335)" fill="none"/>
<path d="M215,300 Q205,350 232,385 Q262,395 285,360" stroke-width="4.64"/>
<ellipse cx="247" cy="555" rx="46" ry="58" transform="rotate(12 247 555)" fill="none"/>
<path d="M215,520 Q205,570 232,605 Q262,615 285,580" stroke-width="4.64"/>
<path d="M300,660 L330,625 L372,612"/>
<path d="M115,545 L160,640"/>
</g><g transform="translate(79.6,34.2)"><g transform="translate(640,1120) scale(0.17260)" fill="none" stroke="#1c1c1c" stroke-width="11.03" stroke-linejoin="round" stroke-linecap="round">
<path d="M5,170 L210,85 L345,138 L372,165 L372,655 L300,660 L160,640 L110,525 L-49,414 Z" fill="#fcfcfd"/>
<path d="M5,170 L160,243 L372,165"/>
<path d="M172,258 L372,182" stroke-width="4.64"/>
<path d="M200,108 L258,88 L328,122 L272,148 Z"/>
<path d="M200,108 L202,122 L272,162 L272,148 M272,162 L328,135 L328,122"/>
<path d="M160,243 L110,525"/>
<path d="M174,260 L126,520" stroke-width="4.64"/>
<path d="M90,205 L25,445"/>
<path d="M110,525 L180,500 L205,465 L290,430 L320,445 L372,425"/>
<path d="M115,545 L185,515 L210,482 L292,445 L322,460 L372,440"/>
<ellipse cx="247" cy="335" rx="46" ry="58" transform="rotate(12 247 335)" fill="none"/>
<path d="M215,300 Q205,350 232,385 Q262,395 285,360" stroke-width="4.64"/>
<ellipse cx="247" cy="555" rx="46" ry="58" transform="rotate(12 247 555)" fill="none"/>
<path d="M215,520 Q205,570 232,605 Q262,615 285,580" stroke-width="4.64"/>
<path d="M300,660 L330,625 L372,612"/>
<path d="M115,545 L160,640"/>
</g></g><g transform="translate(655,1215) scale(0.15102)" fill="none" stroke="#1c1c1c" stroke-width="12.60" stroke-linejoin="round" stroke-linecap="round">
<path d="M560,150 L850,60 L850,440 L775,585 L570,665 L525,640 Z" fill="#fcfcfd"/>
<path d="M570,190 L640,160 L665,125 L760,85 L790,100 L850,75"/>
<path d="M572,212 L642,182 L667,147 L762,107 L792,122 L850,97"/>
<ellipse cx="708" cy="225" rx="48" ry="68" transform="rotate(12 708 225)" fill="none"/>
<path d="M672,185 Q662,240 690,280 Q725,292 748,250" stroke-width="5.30"/>
<path d="M620,345 L680,330 L720,290 L800,260 L850,240"/>
<path d="M622,365 L682,350 L722,310 L802,280 L850,260"/>
<path d="M320,0 L325,100 L380,75 L560,150 L570,200 L585,270 L520,335 L400,205 L265,150 L250,100 Z" fill="#fcfcfd"/>
<path d="M380,75 L395,0"/>
<path d="M480,0 L465,110"/>
<path d="M325,100 L265,150"/>
<path d="M265,150 L400,205 L345,352 L235,352 L250,200 Z" fill="#fcfcfd"/>
<path d="M250,200 L235,352"/>
<path d="M415,520 L430,665 L560,640 L565,520 Z" fill="#fcfcfd"/>
<path d="M440,540 L450,660"/>
<path d="M345,237 L580,268 L520,335 L465,535 L280,470 L325,300 Z" fill="#fcfcfd"/>
<path d="M325,300 L520,335"/>
<path d="M345,237 L325,300"/>
<path d="M440,228 L480,232"/>
<path d="M525,335 L610,350 L620,380 L790,430 L805,485 L770,540 L600,498 L580,522 L470,510 Z" fill="#fcfcfd"/>
<path d="M490,420 L590,435 L585,470 L495,455"/>
<path d="M610,350 L600,498"/>
<ellipse cx="788" cy="485" rx="15" ry="55" transform="rotate(5 788 485)" fill="none"/>
<path d="M690,520 L700,535 L720,530"/>
</g><clipPath id="cliptip"><rect x="380" y="1100" width="124" height="200"/></clipPath><g clip-path="url(#cliptip)"><g transform="translate(-305.2,1006.9) scale(1.41)"><g transform="translate(540,85) scale(0.26969)" fill="none" stroke="#1c1c1c" stroke-width="5.01" stroke-linejoin="round" stroke-linecap="round">
<path d="M15,150 L30,90 L60,72 L185,100 L305,118 L350,145 L362,170 L385,200 L385,250 L345,245 L335,300 L290,240 L250,200 L175,188 L60,185 Z" fill="#fcfcfd"/>
<path d="M30,90 L75,108 L185,100"/>
<path d="M75,108 L60,185"/>
<path d="M45,75 L50,85"/>
<path d="M185,100 L175,188"/>
<path d="M232,108 L220,195"/>
<path d="M303,118 L290,240"/>
<path d="M200,98 L205,105"/>
<path d="M322,150 L355,160 L350,182 L318,172 Z"/>
<path d="M330,158 L345,163 L342,175"/>
<path d="M350,145 L335,215 L290,240"/>
</g></g></g><g transform="translate(495,1130) scale(0.18339)" fill="none" stroke="#1c1c1c" stroke-width="10.38" stroke-linejoin="round" stroke-linecap="round">
<path d="M620,385 L745,335 L872,398 L927,380 L927,470 L770,405 L690,430 Z" fill="#fcfcfd"/>
<path d="M745,335 L750,350 L868,410"/>
<path d="M690,362 L765,398"/>
<path d="M40,152 L130,168 L175,188 L245,195 L320,195 L515,268 L580,385 L690,430 L650,460 L580,490 L500,412 L470,575 L440,560 L360,430 L230,385 L140,375 L40,358 Z" stroke="none" fill="#fcfcfd"/>
<path d="M40,152 L130,168 L175,188 L245,195 L320,195 L515,268 L580,385 L690,430 L650,460 L580,490"/>
<path d="M500,412 L470,575 L440,560 L360,430 L230,385 L140,375 L40,358"/>
<path d="M165,215 L260,225 L395,268 L480,385 L500,412"/>
<path d="M40,198 L110,212 L130,200 L165,215"/>
<path d="M175,188 L165,215"/>
<path d="M170,215 L140,375"/>
<path d="M258,225 L232,385"/>
<path d="M392,270 L362,430"/>
<path d="M440,285 L490,280 L530,335 L485,345 Z"/>
<path d="M457,296 L485,292 L508,328 L488,334 Z"/>
<path d="M190,195 L215,200"/>
<ellipse cx="600" cy="432" rx="45" ry="17" transform="rotate(8 600 432)" fill="none"/>
<ellipse cx="600" cy="432" rx="27" ry="10" transform="rotate(8 600 432)" fill="none"/>
<path d="M545,400 L590,385"/>
<path d="M580,490 L565,440 L545,400"/>
<path d="M500,412 L462,650 L520,695 L585,700 L580,490 Z" fill="#fcfcfd"/>
<path d="M520,430 L495,500 L560,525"/>
<path d="M495,500 L470,640"/>
</g><g transform="translate(590,1200) scale(0.21575)" fill="none" stroke="#1c1c1c" stroke-width="8.82" stroke-linejoin="round" stroke-linecap="round">
<path d="M40,120 L50,100 L215,30 L330,75 L345,110 L345,330 L300,390 L190,365 L45,320 L20,250 Z" fill="#fcfcfd"/>
<path d="M50,100 L190,140 L330,75"/>
<path d="M190,140 L190,365"/>
<path d="M40,120 L185,152"/>
<path d="M62,135 L62,160 L48,165 L48,290 L62,295 L62,318 L172,350 L172,328 L185,325 L185,185 L172,180 L172,158 Z" stroke-linejoin="round"/>
<path d="M215,30 L222,45 L330,90"/>
<ellipse cx="75" cy="42" rx="38" ry="14" transform="rotate(8 75 42)" fill="none"/>
<ellipse cx="75" cy="42" rx="22" ry="8" transform="rotate(8 75 42)" fill="none"/>
<path d="M270,182 L330,150 L400,165 L470,192 L478,240 L468,335 L410,420 L300,390 L280,370 L200,350 L215,215 Z" fill="#fcfcfd"/>
<ellipse cx="345" cy="175" rx="40" ry="15" transform="rotate(8 345 175)" fill="none"/>
<ellipse cx="345" cy="175" rx="24" ry="8" transform="rotate(8 345 175)" fill="none"/>
<path d="M270,182 L285,215 L350,240 L362,188"/>
<path d="M285,215 L280,370"/>
<path d="M350,240 L330,375"/>
<path d="M340,245 L322,372" stroke-width="3.71"/>
<path d="M215,215 L285,232"/>
<path d="M362,188 L470,192"/>
<path d="M410,320 L440,335 L468,318"/>
<path d="M410,420 L412,330"/>
</g><g transform="translate(-305.2,1006.9) scale(1.41)"><g transform="translate(540,85) scale(0.26969)" fill="none" stroke="#1c1c1c" stroke-width="5.01" stroke-linejoin="round" stroke-linecap="round">
<path d="M305,405 L345,388 L460,425 L545,462 L556,480 L550,545 L500,585 L440,560 L440,520 L350,485 L310,465 Z" fill="#fcfcfd"/>
<path d="M305,405 L345,420 L440,470 L500,490 L556,480"/>
<path d="M345,420 L350,485"/>
<path d="M440,470 L440,520"/>
<path d="M500,490 L500,585"/>
<ellipse cx="498" cy="470" rx="26" ry="12" transform="rotate(5 498 470)" fill="none"/>
<ellipse cx="498" cy="471" rx="16" ry="7" transform="rotate(5 498 471)" fill="none"/>
<path d="M380,405 L385,460 L405,468 L405,440"/>
<path d="M345,388 L350,400 L380,405"/>
<path d="M362,396 L368,420"/>
<path d="M460,425 L440,470"/>
<path d="M378,535 L385,612 L470,612 L470,572 Z" fill="#fcfcfd"/>
<path d="M405,545 L410,612"/>
</g><g transform="translate(570,230) scale(0.19417)" fill="none" stroke="#1c1c1c" stroke-width="6.95" stroke-linejoin="round" stroke-linecap="round">
<path d="M440,300 L480,290 L570,560 L480,610 L455,590 L400,400 Z" fill="#fcfcfd"/>
<path d="M455,590 L470,640"/>
<path d="M385,35 L225,250 L250,268 L330,300 L360,348 L430,300 L520,192 L562,162 L582,112 L558,72 L520,68 L470,95 L470,45 Z" fill="#fcfcfd"/>
<path d="M410,100 L262,280"/>
<path d="M520,76 L338,302 M530,82 L348,308" stroke-width="4.12"/>
<circle cx="532" cy="128" r="28" fill="none"/>
<circle cx="532" cy="128" r="13" fill="none"/>
<path d="M375,297 L397,285 L367,327 Z"/>
<path d="M380,0 L380,22 L415,32 L415,100 L440,115 L445,48 L470,52 L476,25 L476,0 Z" fill="#fcfcfd"/>
<path d="M415,32 L445,48"/>
<path d="M130,340 L160,302 L225,265 L330,300 L355,345 L385,362 L440,395 L470,440 L482,520 L455,590 L470,640 L400,720 L345,700 L240,575 L235,545 L185,510 L155,470 Z" fill="#fcfcfd"/>
<path d="M195,345 L325,305"/>
<path d="M195,345 L240,480 L280,520 L320,580 L385,600 L400,560 L480,520"/>
<path d="M160,302 L195,345"/>
<path d="M240,480 L235,545"/>
<circle cx="298" cy="390" r="25" fill="none"/>
<circle cx="398" cy="405" r="26" fill="none"/>
<circle cx="438" cy="490" r="27" fill="none"/>
<circle cx="350" cy="525" r="26" fill="none"/>
<path d="M380,470 L450,430 L490,500 L420,550 Z"/>
<path d="M330,620 L345,700"/>
<path d="M385,640 L400,720"/>
<path d="M240,575 L330,620 L385,640 L470,640"/>
<path d="M430,600 L455,590"/>
<path d="M130,340 L150,385 L168,378 L160,345"/>
<path d="M150,385 L155,470"/>
<path d="M185,440 L215,455 L205,480"/>
<path d="M225,265 L250,300 L330,300"/>
</g></g></g>
<g transform="translate(-259.5,395.3)"><g transform="translate(420,250) scale(0.19417)" fill="none" stroke="#1c1c1c" stroke-width="6.95" stroke-linejoin="round" stroke-linecap="round">
<ellipse cx="150" cy="490" rx="24" ry="60" transform="rotate(18 150 490)" fill="#fcfcfd"/>
<ellipse cx="165" cy="494" rx="24" ry="60" transform="rotate(18 165 494)" fill="#fcfcfd"/>
<path d="M178,440 L290,478 L330,520 L335,575 L300,605 L255,600 L160,550 Z" fill="#fcfcfd"/>
<ellipse cx="235" cy="523" rx="24" ry="60" transform="rotate(18 235 523)" fill="#fcfcfd"/>
<ellipse cx="250" cy="528" rx="24" ry="60" transform="rotate(18 250 528)" fill="none"/>
<ellipse cx="305" cy="548" rx="38" ry="55" transform="rotate(18 305 548)" fill="#fcfcfd"/>
<ellipse cx="308" cy="550" rx="27" ry="40" transform="rotate(18 308 550)" fill="none"/>
<ellipse cx="314" cy="552" rx="18" ry="28" transform="rotate(18 314 552)" fill="none"/>
</g></g>
<line x1="371.5" y1="711.8" x2="305.9" y2="682.8" stroke="#1c1c1c" stroke-width="1.6"/><polygon points="295.8,678.3 307.6,678.9 304.2,686.6" fill="#1c1c1c"/>
<line x1="392" y1="720.8" x2="472.9" y2="754.2" stroke="#1c1c1c" stroke-width="1.6"/>
<polygon points="369.6,716.2 375.4,706.4 387.0,706.4 392.8,716.2 387.0,726.1 375.4,726.1" fill="#fcfcfd" stroke="#1c1c1c" stroke-width="1.3"/><text class="l" x="376.06" y="722.9" font-size="18.5" fill="#1c1c1c">2</text>
<line x1="241.0" y1="761.9" x2="230.1" y2="757.4" stroke="#1c1c1c" stroke-width="1.6"/><polygon points="221.2,753.6 231.7,753.7 228.6,761.0" fill="#1c1c1c"/>
<line x1="263.5" y1="771.7" x2="271.6" y2="775.3" stroke="#1c1c1c" stroke-width="1.6"/>
<polygon points="240.5,766.4 246.4,756.5 258.0,756.5 263.8,766.4 258.0,776.2 246.4,776.2" fill="#fcfcfd" stroke="#1c1c1c" stroke-width="1.3"/><text class="l" x="247.06" y="773.1" font-size="18.5" fill="#1c1c1c">1</text>
<line x1="374.5" y1="819.4" x2="346.9" y2="808.6" stroke="#1c1c1c" stroke-width="1.6"/><polygon points="336.7,804.6 348.5,804.7 345.4,812.5" fill="#1c1c1c"/>
<line x1="396" y1="827.6" x2="432.5" y2="842.4" stroke="#1c1c1c" stroke-width="1.6"/>
<line x1="432.5" y1="842.4" x2="446" y2="849.1" stroke="#c4c4ca" stroke-width="1.6"/>
<polygon points="373.7,823.5 379.5,813.6 391.1,813.6 396.9,823.5 391.1,833.4 379.5,833.4" fill="#fcfcfd" stroke="#1c1c1c" stroke-width="1.3"/><text class="l" x="380.16" y="830.2" font-size="18.5" fill="#1c1c1c">2</text>
<g transform="translate(200,770) scale(0.17260)" fill="none" stroke="#1c1c1c" stroke-width="7.82" stroke-linejoin="round" stroke-linecap="round">
<path d="M450,18 L482,28 L472,86 L445,72 Z" fill="#fcfcfd"/>
<ellipse cx="447" cy="45" rx="13" ry="28" transform="rotate(15 447 45)" fill="#fcfcfd"/>
<path d="M480,10 L520,5 L600,48 L742,98 L762,130 L752,200 L700,216 L545,130 L470,86 Z" fill="#fcfcfd"/>
<path d="M482,28 Q470,60 478,88"/>
<ellipse cx="700" cy="160" rx="24" ry="56" transform="rotate(15 700 160)" fill="none"/>
<ellipse cx="715" cy="165" rx="22" ry="52" transform="rotate(15 715 165)" fill="none"/>
<ellipse cx="738" cy="152" rx="20" ry="45" transform="rotate(15 738 152)" fill="#fcfcfd"/>
<path d="M745,133 L790,152 L778,203 L740,196 Z" fill="#fcfcfd"/>
<ellipse cx="781" cy="177" rx="12" ry="25" transform="rotate(15 781 177)" fill="#fcfcfd"/>
<ellipse cx="760" cy="168" rx="14" ry="30" transform="rotate(15 760 168)" fill="none"/>
<path d="M545,62 L600,48 L642,66 L662,200 L600,420 L512,740 L400,720 L470,380 L545,100 Z" fill="#fcfcfd"/>
<path d="M590,120 L500,440 L440,722"/>
<path d="M640,210 L560,520 L500,738"/>
<path d="M610,70 L590,120"/>
<path d="M642,66 L640,210"/>
<path d="M555,328 L612,342" stroke-width="11.01"/>
<path d="M550,350 L606,364" stroke-width="11.01"/>
<path d="M545,372 L600,386" stroke-width="11.01"/>
<path d="M540,394 L595,408" stroke-width="11.01"/>
<path d="M535,416 L590,430" stroke-width="11.01"/>
<path d="M530,438 L585,452" stroke-width="11.01"/>
<path d="M527,458 L580,470" stroke-width="11.01"/>
<path d="M480,640 L500,560 L545,500 L562,522 L530,620 L490,652 Z"/>
</g>
<g transform="translate(200,880) scale(0.18339)" fill="none" stroke="#1c1c1c" stroke-width="7.36" stroke-linejoin="round" stroke-linecap="round">
<path d="M100,360 L360,470 L355,585 L50,452 Q35,430 42,400 Q55,362 100,360 Z" fill="#fcfcfd"/>
<path d="M45,440 L350,572"/>
<path d="M60,432 L350,555" stroke-width="4.36"/>
<path d="M70,420 Q104,380 115,365" stroke-width="10.36"/>
<path d="M90,428 Q125,389 135,373" stroke-width="10.36"/>
<path d="M111,437 Q145,397 156,382" stroke-width="10.36"/>
<path d="M131,445 Q166,406 176,390" stroke-width="10.36"/>
<path d="M152,454 Q186,414 197,399" stroke-width="10.36"/>
<path d="M172,462 Q206,423 217,407" stroke-width="10.36"/>
<path d="M192,471 Q227,431 237,416" stroke-width="10.36"/>
<path d="M213,479 Q247,440 258,424" stroke-width="10.36"/>
<path d="M233,488 Q268,448 278,433" stroke-width="10.36"/>
<path d="M253,496 Q288,457 298,441" stroke-width="10.36"/>
<path d="M274,505 Q308,465 319,450" stroke-width="10.36"/>
<path d="M294,513 Q329,474 339,458" stroke-width="10.36"/>
<path d="M315,522 Q349,482 360,467" stroke-width="10.36"/>
<path d="M335,530 Q370,490 380,475" stroke-width="10.36"/>
<path d="M480,540 L800,660 Q850,680 842,712 Q830,745 780,748 L470,625 Z" fill="#fcfcfd"/>
<path d="M470,612 L790,738"/>
<path d="M480,600 L800,722" stroke-width="4.36"/>
<path d="M490,598 Q522,561 530,548" stroke-width="10.36"/>
<path d="M513,607 Q545,570 553,557" stroke-width="10.36"/>
<path d="M536,616 Q568,579 576,566" stroke-width="10.36"/>
<path d="M559,625 Q591,588 599,575" stroke-width="10.36"/>
<path d="M582,634 Q614,597 622,584" stroke-width="10.36"/>
<path d="M605,643 Q637,606 645,593" stroke-width="10.36"/>
<path d="M628,652 Q660,615 668,602" stroke-width="10.36"/>
<path d="M652,661 Q684,624 692,611" stroke-width="10.36"/>
<path d="M675,670 Q707,633 715,620" stroke-width="10.36"/>
<path d="M698,679 Q730,642 738,629" stroke-width="10.36"/>
<path d="M721,688 Q753,651 761,638" stroke-width="10.36"/>
<path d="M744,697 Q776,660 784,647" stroke-width="10.36"/>
<path d="M767,706 Q799,669 807,656" stroke-width="10.36"/>
<path d="M790,715 Q822,678 830,665" stroke-width="10.36"/>
<path d="M360,470 L470,535 L480,625 L440,615 L360,580 Z" fill="#fcfcfd"/>
<ellipse cx="462" cy="580" rx="14" ry="42" transform="rotate(5 462 580)" fill="none"/>
<ellipse cx="448" cy="575" rx="14" ry="42" transform="rotate(5 448 575)" fill="none"/>
<ellipse cx="352" cy="525" rx="10" ry="35" transform="rotate(5 352 525)" fill="none"/>
<path d="M390,0 L345,70 L315,100 L320,175 L345,260 L360,430 L360,580 L400,600 L445,615 L520,520 L500,290 L520,185 L520,110 L470,85 L500,0 Z" fill="#fcfcfd"/>
<path d="M345,70 L375,95 L380,130 L395,300 L400,595"/>
<path d="M315,100 L350,120 L360,200 L375,300"/>
<path d="M410,115 L470,85"/>
<path d="M410,115 L420,200 L440,230 L445,585"/>
<path d="M470,220 L480,545"/>
<path d="M420,200 L480,215 L520,185"/>
<path d="M440,0 L410,115"/>
<path d="M395,300 L420,240"/>
<path d="M445,330 L470,300"/>
<circle cx="488" cy="170" r="28" fill="none"/>
<circle cx="488" cy="170" r="17" fill="none"/>
</g>
<path d="M577.5,700.2 L527,700.2 Q520.9,700.2 520.9,694 L520.9,459 Q520.9,452.9 527,452.9 L864.2,452.9 Q870.3,452.9 870.3,459 L870.3,694 Q870.3,700.2 864.2,700.2 L610.6,700.2 L546.1,764.9 Z" fill="none" stroke="#2a2a2a" stroke-width="1.3" stroke-linejoin="round"/>
<g transform="translate(282,-206)"><g transform="translate(400,735) scale(0.17799)" fill="none" stroke="#1c1c1c" stroke-width="7.58" stroke-linejoin="round" stroke-linecap="round">
<path d="M370,215 L375,160 Q380,140 400,135 L600,60 L745,120 L790,160 L885,400 L790,700 L745,770 L700,500 L440,480 L375,480 Z" fill="#fcfcfd"/>
<path d="M400,135 L470,175 L445,215"/>
<path d="M470,175 L500,188 L640,130"/>
<path d="M500,188 L500,215 L585,250 L790,160"/>
<path d="M600,62 L600,78 L742,135"/>
<path d="M585,250 L590,330"/>
<ellipse cx="350" cy="170" rx="12" ry="25" transform="rotate(10 350 170)" fill="#fcfcfd"/>
<path d="M352,146 L382,152 M350,195 L375,200"/>
<path d="M445,95 L450,110 M470,88 L475,102"/>
<ellipse cx="612" cy="282" rx="25" ry="35" transform="rotate(12 612 282)" fill="none"/>
<ellipse cx="712" cy="235" rx="28" ry="38" transform="rotate(12 712 235)" fill="none"/>
<ellipse cx="768" cy="330" rx="28" ry="38" transform="rotate(12 768 330)" fill="none"/>
<ellipse cx="616" cy="284" rx="17" ry="26" transform="rotate(12 616 284)" fill="none"/>
<ellipse cx="716" cy="237" rx="19" ry="28" transform="rotate(12 716 237)" fill="none"/>
<ellipse cx="772" cy="332" rx="19" ry="28" transform="rotate(12 772 332)" fill="none"/>
<path d="M375,355 L375,485 L440,460 L440,380 Z" fill="#fcfcfd"/>
<path d="M205,530 L690,335 L720,348 L775,465 L745,765 L625,830 L225,845 L145,800 L150,760 L180,610 Z" fill="#fcfcfd"/>
<path d="M215,548 L235,838"/>
<path d="M262,565 L700,385"/>
<path d="M700,360 L760,470"/>
<path d="M215,548 L262,565"/>
<path d="M720,348 L700,360"/>
<circle cx="287" cy="590" r="10" fill="none"/>
<circle cx="697" cy="420" r="10" fill="none"/>
<circle cx="712" cy="740" r="10" fill="none"/>
<circle cx="250" cy="808" r="10" fill="none"/>
<circle cx="287" cy="590" r="4" fill="none"/>
<circle cx="697" cy="420" r="4" fill="none"/>
<circle cx="712" cy="740" r="4" fill="none"/>
<circle cx="250" cy="808" r="4" fill="none"/>
<path d="M232,568 L262,572 L262,584 L232,580 Z"/>
<ellipse cx="540" cy="762" rx="28" ry="38" transform="rotate(12 540 762)" fill="none"/>
<ellipse cx="543" cy="764" rx="20" ry="29" transform="rotate(12 543 764)" fill="none"/>
<path d="M180,605 L35,660 L30,740 L45,765 L140,748 L150,760 Z" fill="#fcfcfd"/>
<path d="M35,660 L62,682 L195,628"/>
<path d="M62,682 L62,762"/>
<ellipse cx="130" cy="700" rx="22" ry="32" transform="rotate(10 130 700)" fill="none"/>
<path d="M305,635 L305,800 L317,794 L317,772"/>
<path d="M430,580 L430,709"/>
<path d="M305,635 L361,610 L361,627 L430,596"/>
<path d="M305,652 L361,627 M361,610 L430,580"/>
<path d="M305,668 L361,643 L361,660 L430,630"/>
<path d="M305,684 L361,660 M361,643 L430,613"/>
<path d="M305,701 L361,676 L361,693 L430,662"/>
<path d="M305,718 L361,693 M361,676 L430,646"/>
<path d="M305,734 L361,709 L361,726 L430,696"/>
<path d="M305,750 L361,726 M361,709 L430,679"/>
<path d="M455,570 L455,730 L467,724 L467,702"/>
<path d="M580,512 L580,637"/>
<path d="M455,570 L511,544 L511,560 L580,528"/>
<path d="M455,586 L511,560 M511,544 L580,512"/>
<path d="M455,602 L511,576 L511,592 L580,560"/>
<path d="M455,618 L511,592 M511,576 L580,544"/>
<path d="M455,634 L511,608 L511,624 L580,592"/>
<path d="M455,650 L511,624 M511,608 L580,576"/>
<path d="M455,666 L511,640 L511,656 L580,624"/>
<path d="M455,682 L511,656 M511,640 L580,608"/>
<path d="M600,510 L600,670 L612,664 L612,642"/>
<path d="M725,452 L725,577"/>
<path d="M600,510 L656,484 L656,500 L725,468"/>
<path d="M600,526 L656,500 M656,484 L725,452"/>
<path d="M600,542 L656,516 L656,532 L725,500"/>
<path d="M600,558 L656,532 M656,516 L725,484"/>
<path d="M600,574 L656,548 L656,564 L725,532"/>
<path d="M600,590 L656,564 M656,548 L725,516"/>
<path d="M600,606 L656,580 L656,596 L725,564"/>
<path d="M600,622 L656,596 M656,580 L725,548"/>
<path d="M440,378 L580,362 L580,420 L512,458 L440,425 Z" fill="#fcfcfd"/>
<path d="M440,395 L512,428 L580,392"/>
<path d="M512,428 L512,458"/>
<path d="M470,408 L470,440 M485,414 L485,447 M498,420 L498,452 M528,420 L528,450 M545,412 L545,442 M560,404 L560,432" stroke-width="4.49"/>
<path d="M455,350 L470,350 L470,375"/>
<path d="M300,292 L330,250 L480,233 Q560,222 590,268 Q602,330 570,365 L450,350 L350,372 Z" fill="#fcfcfd"/>
<path d="M320,272 L470,257 L482,270"/>
<path d="M455,350 L470,330"/>
<circle cx="540" cy="305" r="32" fill="none"/>
<circle cx="540" cy="305" r="15" fill="none"/>
<circle cx="540" cy="305" r="6" fill="none"/>
<path d="M0,40 L90,100 L75,135 L130,170 L262,292 Q330,285 350,335 Q352,395 297,402 Q255,400 240,380 L210,355 L215,378 L165,352 L150,328 L150,290 L85,240 L0,200 Z" fill="#fcfcfd"/>
<path d="M45,155 L70,160 L70,188 L45,183 Z"/>
<path d="M95,140 L245,278"/>
<path d="M130,170 L85,240"/>
<path d="M205,262 L240,292 L222,322"/>
<path d="M110,170 L235,285 M150,290 L240,365" stroke-width="4.49"/>
<circle cx="297" cy="345" r="30" fill="none"/>
<circle cx="297" cy="345" r="11" fill="none"/>
<path d="M150,328 L210,355"/>
</g><g transform="translate(340,710) scale(0.14024)" fill="none" stroke="#1c1c1c" stroke-width="9.63" stroke-linejoin="round" stroke-linecap="round">
<path d="M45,125 L80,90 L300,207 L258,265 Z" fill="#fcfcfd"/>
<path d="M95,102 L68,138"/>
<path d="M115,138 L275,232 M100,160 L250,250" stroke-width="5.70"/>
<ellipse cx="132" cy="158" rx="18" ry="10" transform="rotate(30 132 158)" fill="none"/>
<path d="M235,300 L325,175 L415,220 L535,292 L520,335 L440,458 L405,438 L330,392 L240,330 Z" fill="#fcfcfd"/>
<path d="M415,220 L335,390"/>
<path d="M235,300 L335,390 L442,455"/>
<ellipse cx="350" cy="282" rx="14" ry="20" transform="rotate(30 350 282)" fill="none"/>
<path d="M400,252 L498,312 L430,428 L352,378 Z"/>
<path d="M490,390 L525,398 L520,425 L485,417 Z"/>
</g></g>
<g transform="translate(65,209)"><g transform="translate(420,250) scale(0.19417)" fill="none" stroke="#1c1c1c" stroke-width="6.95" stroke-linejoin="round" stroke-linecap="round">
<path d="M545,160 Q520,165 525,190 Q535,210 560,200 L575,165 Z" fill="#fcfcfd"/>
<path d="M560,160 L640,118 Q700,100 728,125 L728,142 L612,252 Q575,262 556,238 Z" fill="#fcfcfd"/>
<path d="M568,172 L645,130 Q700,115 722,138"/>
<path d="M568,172 Q560,215 575,245"/>
<path d="M650,110 L655,120"/>
<path d="M700,108 L702,118"/>
<path d="M678,146 L735,146 Q765,165 760,192 Q750,216 726,214 L688,204 Z" fill="#fcfcfd"/>
<ellipse cx="738" cy="182" rx="19" ry="31" transform="rotate(15 738 182)" fill="none"/>
<ellipse cx="716" cy="176" rx="19" ry="31" transform="rotate(15 716 176)" fill="none"/>
<path d="M590,188 L650,188 Q672,203 666,232 Q655,250 638,246 L598,248 Z" fill="#fcfcfd"/>
<ellipse cx="648" cy="217" rx="14" ry="28" transform="rotate(15 648 217)" fill="none"/>
<ellipse cx="628" cy="212" rx="15" ry="30" transform="rotate(15 628 212)" fill="none"/>
<path d="M600,186 Q582,215 598,250"/>
</g></g>
<g transform="translate(398.5,232)"><g transform="translate(60,250) scale(0.21575)" fill="none" stroke="#1c1c1c" stroke-width="6.26" stroke-linejoin="round" stroke-linecap="round">
<path d="M535,398 L620,425 L660,470 L640,535 L590,538 L505,482 Q495,430 535,398 Z" fill="#fcfcfd"/>
<path d="M535,398 Q500,420 505,482"/>
<ellipse cx="590" cy="468" rx="30" ry="56" transform="rotate(18 590 468)" fill="none"/>
<ellipse cx="600" cy="472" rx="30" ry="56" transform="rotate(18 600 472)" fill="none"/>
<ellipse cx="626" cy="487" rx="37" ry="55" transform="rotate(18 626 487)" fill="#fcfcfd"/>
<ellipse cx="628" cy="488" rx="26" ry="40" transform="rotate(18 628 488)" fill="none"/>
<ellipse cx="632" cy="490" rx="17" ry="27" transform="rotate(18 632 490)" fill="none"/>
</g></g>
<g transform="translate(539.5,293.5)"><g transform="translate(60,250) scale(0.21575)" fill="none" stroke="#1c1c1c" stroke-width="6.26" stroke-linejoin="round" stroke-linecap="round">
<path d="M150,272 L185,282 L178,325 L142,315 Z" fill="#fcfcfd"/>
<ellipse cx="150" cy="295" rx="10" ry="22" transform="rotate(15 150 295)" fill="#fcfcfd"/>
<ellipse cx="215" cy="310" rx="45" ry="62" transform="rotate(12 215 310)" fill="#fcfcfd"/>
<ellipse cx="208" cy="308" rx="40" ry="56" transform="rotate(12 208 308)" fill="none"/>
<path d="M225,288 L285,312 L278,362 L215,345 Z" fill="#fcfcfd"/>
<ellipse cx="262" cy="330" rx="12" ry="24" transform="rotate(12 262 330)" fill="none"/>
<ellipse cx="285" cy="338" rx="11" ry="22" transform="rotate(12 285 338)" fill="#fcfcfd"/>
</g></g>
<path d="M588.5,555.5 Q579.7,550 579.7,542.5 A13.8,13.8 0 1 1 597,555.9 L591.5,556.5 L584.9,565.4 Z" fill="#fcfcfd" stroke="#1c1c1c" stroke-width="1.3" stroke-linejoin="round"/>
<text class="l" x="589.5" y="551" font-size="24" font-weight="bold" fill="#1c1c1c">!</text>
<line x1="613" y1="503.9" x2="664" y2="526.3" stroke="#1c1c1c" stroke-width="1.6"/>
<line x1="664" y1="526.3" x2="688" y2="536.5" stroke="#c4c4ca" stroke-width="1.6"/>
<line x1="688.0" y1="536.5" x2="732.0" y2="554.6" stroke="#1c1c1c" stroke-width="1.6"/><polygon points="742.2,558.8 730.4,558.5 733.6,550.7" fill="#1c1c1c"/>
<line x1="596.6" y1="588.0" x2="617.5" y2="596.7" stroke="#1c1c1c" stroke-width="1.6"/><polygon points="626.3,600.3 616.0,600.4 619.1,593.0" fill="#1c1c1c"/>
<line x1="664.3" y1="616.7" x2="708.3" y2="635.1" stroke="#1c1c1c" stroke-width="1.6"/>
<line x1="708.3" y1="635.1" x2="745.9" y2="649.7" stroke="#c4c4ca" stroke-width="1.6"/><polygon points="756.2,653.7 744.4,653.6 747.5,645.8" fill="#c4c4ca"/>
<text class="l" x="542.5" y="503.6" font-size="20.3" fill="#1c1c1c">B</text><circle cx="570.4" cy="496.2" r="10.5" fill="#1b1919" stroke="none"/><text class="l" x="562.4" y="502.1" font-size="16.5" font-weight="bold" fill="#fff" textLength="16" lengthAdjust="spacingAndGlyphs">14</text>
<text class="l" x="559.1" y="620" font-size="20.3" fill="#1c1c1c">B</text><circle cx="587" cy="612.6" r="10.5" fill="#1b1919" stroke="none"/><text class="l" x="582.11" y="618.9" font-size="17.6" font-weight="bold" fill="#fff">3</text>
<text class="l" x="625.9" y="648.7" font-size="20.3" fill="#1c1c1c">B</text><circle cx="653.8" cy="641.3" r="10.5" fill="#1b1919" stroke="none"/><text class="l" x="648.91" y="647.6" font-size="17.6" font-weight="bold" fill="#fff">4</text>
<clipPath id="clipH"><rect x="118" y="1140.5" width="345" height="300"/></clipPath>
<g clip-path="url(#clipH)">
<g transform="translate(110,1135) scale(0.20496)" fill="none" stroke="#1c1c1c" stroke-width="6.59" stroke-linejoin="round" stroke-linecap="round">
<path d="M240,20 L260,45 L320,50 L325,120 L350,160 L445,165 L455,20 Z" fill="#fcfcfd"/>
<path d="M320,20 L325,120 L445,128 L445,165"/>
<path d="M345,20 L350,120"/>
<path d="M360,20 L362,125"/>
<path d="M325,120 L350,160"/>
<path d="M495,45 Q500,25 520,28 L660,88 L722,430 L680,482 L660,640 L600,590 L575,560 L612,375 L565,230 L495,165 Z" fill="#fcfcfd"/>
<path d="M640,112 L700,440"/>
<ellipse cx="525" cy="110" rx="19" ry="40" transform="rotate(-8 525 110)" fill="none"/>
<ellipse cx="590" cy="150" rx="21" ry="42" transform="rotate(-8 590 150)" fill="none"/>
<ellipse cx="625" cy="270" rx="21" ry="40" transform="rotate(-8 625 270)" fill="none"/>
<ellipse cx="622" cy="500" rx="21" ry="40" transform="rotate(-8 622 500)" fill="none"/>
<ellipse cx="528" cy="112" rx="12" ry="30" transform="rotate(-8 528 112)" fill="none"/>
<ellipse cx="593" cy="152" rx="13" ry="32" transform="rotate(-8 593 152)" fill="none"/>
<ellipse cx="628" cy="272" rx="13" ry="30" transform="rotate(-8 628 272)" fill="none"/>
<ellipse cx="625" cy="502" rx="13" ry="30" transform="rotate(-8 625 502)" fill="none"/>
<path d="M660,88 L830,58 L940,40 L960,700 L760,690 L670,640 L680,482 L722,430 Z" stroke="none" fill="#fcfcfd"/>
<path d="M940,40 L830,58 L660,88 L722,430"/>
<path d="M690,95 L735,445"/>
<path d="M725,85 L825,68 L832,130 L735,150 Z"/>
<path d="M765,150 L800,392"/>
<path d="M790,146 L830,388"/>
<path d="M860,60 L900,380"/>
<path d="M750,398 L895,375 L902,420 L762,442 Z"/>
<path d="M810,440 L812,460 L835,458"/>
<path d="M700,452 L905,420 L948,455 L905,645 L760,692 L670,640 Z" fill="#fcfcfd"/>
<path d="M722,470 L895,445 L925,470 L888,628 L760,670 L695,630 Z"/>
<path d="M700,452 L722,470 M905,420 L895,445 M948,455 L925,470 M905,645 L888,628"/>
<circle cx="805" cy="545" r="88" fill="none"/>
<circle cx="805" cy="545" r="74" fill="none"/>
<circle cx="805" cy="545" r="52" fill="none"/>
<circle cx="805" cy="545" r="36" fill="none"/>
<ellipse cx="805" cy="548" rx="30" ry="18" transform="rotate(-15 805 548)" fill="none"/>
<path d="M705,690 L715,756 M730,690 L745,756 M760,692 L790,756 M720,700 L770,740" stroke-width="3.90"/>
<path d="M70,85 L105,65 L235,58 L500,198 L565,230 L612,375 L570,560 L480,640 L455,630 L105,310 L105,215 L75,195 Z" fill="#fcfcfd"/>
<path d="M150,80 L465,210 L510,400 L455,630"/>
<path d="M150,80 L105,215"/>
<path d="M105,65 L150,80"/>
<path d="M465,210 L565,230"/>
<path d="M162,100 L453,226 L495,400 L445,608"/>
<path d="M540,238 L585,375 L545,560"/>
<path d="M510,400 L612,375"/>
<path d="M485,262 L530,248" stroke-width="9.27"/>
<path d="M500,325 L545,312" stroke-width="9.27"/>
<path d="M515,390 L560,378" stroke-width="9.27"/>
<path d="M95,120 Q80,150 95,180"/>
<circle cx="152" cy="118" r="8" fill="none"/>
<circle cx="438" cy="240" r="8" fill="none"/>
<circle cx="125" cy="315" r="8" fill="none"/>
<circle cx="445" cy="600" r="8" fill="none"/>
<circle cx="152" cy="118" r="3" fill="none"/>
<circle cx="438" cy="240" r="3" fill="none"/>
<circle cx="125" cy="315" r="3" fill="none"/>
<circle cx="445" cy="600" r="3" fill="none"/>
<ellipse cx="325" cy="480" rx="24" ry="38" transform="rotate(-15 325 480)" fill="none"/>
<ellipse cx="328" cy="482" rx="16" ry="28" transform="rotate(-15 328 482)" fill="none"/>
<path d="M165,170 L165,330"/>
<path d="M250,198 L250,398 L240,390 L240,363"/>
<path d="M165,170 L203,183 L203,201 L250,216" stroke-width="9.27"/>
<path d="M165,188 L203,201 M203,183 L250,198"/>
<path d="M165,210 L203,223 L203,241 L250,256" stroke-width="9.27"/>
<path d="M165,228 L203,241 M203,223 L250,238"/>
<path d="M165,250 L203,263 L203,281 L250,296" stroke-width="9.27"/>
<path d="M165,268 L203,281 M203,263 L250,278"/>
<path d="M165,290 L203,303 L203,321 L250,336" stroke-width="9.27"/>
<path d="M165,308 L203,321 M203,303 L250,318"/>
<path d="M265,215 L265,375"/>
<path d="M350,243 L350,443 L340,435 L340,408"/>
<path d="M265,215 L303,228 L303,246 L350,261" stroke-width="9.27"/>
<path d="M265,233 L303,246 M303,228 L350,243"/>
<path d="M265,255 L303,268 L303,286 L350,301" stroke-width="9.27"/>
<path d="M265,273 L303,286 M303,268 L350,283"/>
<path d="M265,295 L303,308 L303,326 L350,341" stroke-width="9.27"/>
<path d="M265,313 L303,326 M303,308 L350,323"/>
<path d="M265,335 L303,348 L303,366 L350,381" stroke-width="9.27"/>
<path d="M265,353 L303,366 M303,348 L350,363"/>
<path d="M370,260 L370,420"/>
<path d="M455,288 L455,488 L445,480 L445,453"/>
<path d="M370,260 L408,273 L408,291 L455,306" stroke-width="9.27"/>
<path d="M370,278 L408,291 M408,273 L455,288"/>
<path d="M370,300 L408,313 L408,331 L455,346" stroke-width="9.27"/>
<path d="M370,318 L408,331 M408,313 L455,328"/>
<path d="M370,340 L408,353 L408,371 L455,386" stroke-width="9.27"/>
<path d="M370,358 L408,371 M408,353 L455,368"/>
<path d="M370,380 L408,393 L408,411 L455,426" stroke-width="9.27"/>
<path d="M370,398 L408,411 M408,393 L455,408"/>
</g>
<g transform="translate(280,1135) scale(0.20496)" fill="none" stroke="#1c1c1c" stroke-width="6.59" stroke-linejoin="round" stroke-linecap="round">
<path d="M40,40 L150,40 L155,90 L60,100 Z"/>
<path d="M60,100 L70,150 L160,140 L155,90"/>
<path d="M70,150 L80,230 L150,210"/>
<path d="M80,230 L110,330 L110,440"/>
<path d="M45,40 L60,100"/>
<path d="M175,20 L182,300 L130,322 L120,440 L240,430 L262,370 L262,290 L255,20 Z" fill="#fcfcfd"/>
<path d="M180,28 L185,300"/>
<path d="M215,28 L222,295"/>
<path d="M250,28 L258,290"/>
<path d="M130,322 L185,300 L255,292 L250,318 L190,340 Z"/>
<ellipse cx="195" cy="318" rx="40" ry="12" transform="rotate(-10 195 318)" fill="none"/>
<path d="M150,340 Q140,390 152,440"/>
<path d="M235,330 Q228,380 238,430"/>
<path d="M120,440 L240,430"/>
<path d="M235,188 L300,195 L310,262 L245,268 Z" fill="#fcfcfd"/>
<circle cx="270" cy="225" r="25" fill="none"/>
<path d="M245,268 L300,275 L330,270"/>
<ellipse cx="300" cy="285" rx="12" ry="8" transform="rotate(0 300 285)" fill="none"/>
<path d="M290,20 L300,120 L262,290 L262,372 L420,560 L480,372 L440,180 L410,20 Z" fill="#fcfcfd"/>
<path d="M300,28 L380,28 L385,60 L335,70 L340,110 L300,120"/>
<ellipse cx="395" cy="185" rx="19" ry="40" transform="rotate(-8 395 185)" fill="none"/>
<ellipse cx="360" cy="285" rx="19" ry="40" transform="rotate(-8 360 285)" fill="none"/>
<ellipse cx="325" cy="385" rx="19" ry="40" transform="rotate(-8 325 385)" fill="none"/>
<ellipse cx="395" cy="420" rx="19" ry="40" transform="rotate(-8 395 420)" fill="none"/>
<ellipse cx="330" cy="160" rx="12" ry="30" transform="rotate(-8 330 160)" fill="none"/>
<ellipse cx="398" cy="187" rx="12" ry="30" transform="rotate(-8 398 187)" fill="none"/>
<ellipse cx="363" cy="287" rx="12" ry="30" transform="rotate(-8 363 287)" fill="none"/>
<ellipse cx="328" cy="387" rx="12" ry="30" transform="rotate(-8 328 387)" fill="none"/>
<ellipse cx="398" cy="422" rx="12" ry="30" transform="rotate(-8 398 422)" fill="none"/>
<path d="M410,28 L445,185 L465,180"/>
<path d="M440,28 L465,180"/>
<path d="M490,20 L650,20 L712,300 L640,550 L450,585 L420,560 L480,372 L440,180 Z" fill="#fcfcfd"/>
<path d="M495,28 L500,62 L590,52 L595,28"/>
<path d="M540,60 L580,300"/>
<path d="M565,56 L605,296"/>
<path d="M650,28 L665,150 L672,160 L712,300"/>
<path d="M520,322 L660,292 L668,332 L530,360 Z"/>
<path d="M575,352 L578,372 L600,368"/>
<path d="M480,372 L690,336 L640,550 L450,585 L420,560 Z" fill="#fcfcfd"/>
<path d="M500,392 L668,362 L628,532 L455,562 Z"/>
<path d="M480,372 L500,392 M690,336 L668,362 M640,550 L628,532 M450,585 L455,562"/>
<ellipse cx="565" cy="458" rx="92" ry="80" transform="rotate(-15 565 458)" fill="none"/>
<ellipse cx="565" cy="458" rx="76" ry="65" transform="rotate(-15 565 458)" fill="none"/>
<ellipse cx="565" cy="458" rx="55" ry="45" transform="rotate(-15 565 458)" fill="none"/>
<ellipse cx="565" cy="460" rx="38" ry="26" transform="rotate(-15 565 460)" fill="none"/>
<path d="M235,640 L300,625 L350,760 L270,760 Z" fill="#fcfcfd"/>
<ellipse cx="268" cy="634" rx="33" ry="11" transform="rotate(-12 268 634)" fill="none"/>
</g>
</g>
<line x1="333.4" y1="1259" x2="323.5" y2="1216" stroke="#1c1c1c" stroke-width="2"/>
<polygon points="321,1205.3 327.8,1217 319,1219" fill="#1c1c1c"/>
<g transform="translate(290,1250) scale(0.16181)" fill="none" stroke="#1c1c1c" stroke-width="8.34" stroke-linejoin="round" stroke-linecap="round">
<path d="M238,105 L275,240 L250,420 L300,560 L312,605 L420,578 L505,560 L495,505 L460,365 L400,290 L350,200 L328,95 Z" fill="#fcfcfd"/>
<ellipse cx="283" cy="100" rx="45" ry="15" transform="rotate(-12 283 100)" fill="#fcfcfd"/>
<path d="M275,240 Q310,215 350,203"/>
<path d="M250,420 Q350,375 460,365"/>
<path d="M300,560 Q400,515 495,505"/>
<path d="M312,605 Q400,575 505,560"/>
<path d="M365,860 L435,1130 L660,1130 L575,750 L520,745 Z" fill="#fcfcfd"/>
<path d="M395,945 Q490,900 595,890"/>
<path d="M430,1120 L665,1120 L670,1140 L430,1140 Z" stroke="none" fill="#fcfcfd"/>
<path d="M405,592 L470,572 L490,590 Q580,620 582,720 L575,780 L520,745 L440,760 Z" fill="#fcfcfd"/>
<path d="M470,572 L520,745"/>
<path d="M420,600 L445,700"/>
<path d="M490,590 L500,660"/>
<path d="M515,682 L545,680 L552,745"/>
<path d="M420,700 L440,760"/>
<ellipse cx="335" cy="735" rx="72" ry="118" transform="rotate(-12 335 735)" fill="#fcfcfd"/>
<ellipse cx="345" cy="733" rx="62" ry="108" transform="rotate(-12 345 733)" fill="none"/>
<ellipse cx="318" cy="735" rx="50" ry="92" transform="rotate(-12 318 735)" fill="none"/>
<path d="M315,690 L345,705 L350,750 L322,782 L290,765 L285,720 Z"/>
<ellipse cx="318" cy="736" rx="18" ry="26" transform="rotate(-12 318 736)" fill="none"/>
</g>
<clipPath id="clipI"><rect x="504.5" y="1110" width="400" height="291.5"/></clipPath>
<g clip-path="url(#clipI)"><g transform="translate(590,1200) scale(0.21575)" fill="none" stroke="#1c1c1c" stroke-width="6.49" stroke-linejoin="round" stroke-linecap="round">
<path d="M300,390 L350,480 L515,572 L700,520 L870,440 L895,340 L700,250 L420,250 Z" fill="#fcfcfd"/>
<path d="M350,480 L520,500 L515,572"/>
<path d="M520,500 L690,448 L700,520"/>
<path d="M360,492 L515,585 L700,532" stroke-width="3.71"/>
</g><g transform="translate(640,1120) scale(0.17260)" fill="none" stroke="#1c1c1c" stroke-width="8.11" stroke-linejoin="round" stroke-linecap="round">
<path d="M5,170 L210,85 L345,138 L372,165 L372,655 L300,660 L160,640 L110,525 L-49,414 Z" fill="#fcfcfd"/>
<path d="M5,170 L160,243 L372,165"/>
<path d="M172,258 L372,182" stroke-width="4.64"/>
<path d="M200,108 L258,88 L328,122 L272,148 Z"/>
<path d="M200,108 L202,122 L272,162 L272,148 M272,162 L328,135 L328,122"/>
<path d="M160,243 L110,525"/>
<path d="M174,260 L126,520" stroke-width="4.64"/>
<path d="M90,205 L25,445"/>
<path d="M110,525 L180,500 L205,465 L290,430 L320,445 L372,425"/>
<path d="M115,545 L185,515 L210,482 L292,445 L322,460 L372,440"/>
<ellipse cx="247" cy="335" rx="46" ry="58" transform="rotate(12 247 335)" fill="none"/>
<path d="M215,300 Q205,350 232,385 Q262,395 285,360" stroke-width="4.64"/>
<ellipse cx="247" cy="555" rx="46" ry="58" transform="rotate(12 247 555)" fill="none"/>
<path d="M215,520 Q205,570 232,605 Q262,615 285,580" stroke-width="4.64"/>
<path d="M300,660 L330,625 L372,612"/>
<path d="M115,545 L160,640"/>
</g><g transform="translate(79.6,34.2)"><g transform="translate(640,1120) scale(0.17260)" fill="none" stroke="#1c1c1c" stroke-width="8.11" stroke-linejoin="round" stroke-linecap="round">
<path d="M5,170 L210,85 L345,138 L372,165 L372,655 L300,660 L160,640 L110,525 L-49,414 Z" fill="#fcfcfd"/>
<path d="M5,170 L160,243 L372,165"/>
<path d="M172,258 L372,182" stroke-width="4.64"/>
<path d="M200,108 L258,88 L328,122 L272,148 Z"/>
<path d="M200,108 L202,122 L272,162 L272,148 M272,162 L328,135 L328,122"/>
<path d="M160,243 L110,525"/>
<path d="M174,260 L126,520" stroke-width="4.64"/>
<path d="M90,205 L25,445"/>
<path d="M110,525 L180,500 L205,465 L290,430 L320,445 L372,425"/>
<path d="M115,545 L185,515 L210,482 L292,445 L322,460 L372,440"/>
<ellipse cx="247" cy="335" rx="46" ry="58" transform="rotate(12 247 335)" fill="none"/>
<path d="M215,300 Q205,350 232,385 Q262,395 285,360" stroke-width="4.64"/>
<ellipse cx="247" cy="555" rx="46" ry="58" transform="rotate(12 247 555)" fill="none"/>
<path d="M215,520 Q205,570 232,605 Q262,615 285,580" stroke-width="4.64"/>
<path d="M300,660 L330,625 L372,612"/>
<path d="M115,545 L160,640"/>
</g></g><g transform="translate(655,1215) scale(0.15102)" fill="none" stroke="#1c1c1c" stroke-width="9.27" stroke-linejoin="round" stroke-linecap="round">
<path d="M560,150 L850,60 L850,440 L775,585 L570,665 L525,640 Z" fill="#fcfcfd"/>
<path d="M570,190 L640,160 L665,125 L760,85 L790,100 L850,75"/>
<path d="M572,212 L642,182 L667,147 L762,107 L792,122 L850,97"/>
<ellipse cx="708" cy="225" rx="48" ry="68" transform="rotate(12 708 225)" fill="none"/>
<path d="M672,185 Q662,240 690,280 Q725,292 748,250" stroke-width="5.30"/>
<path d="M620,345 L680,330 L720,290 L800,260 L850,240"/>
<path d="M622,365 L682,350 L722,310 L802,280 L850,260"/>
<path d="M320,0 L325,100 L380,75 L560,150 L570,200 L585,270 L520,335 L400,205 L265,150 L250,100 Z" fill="#fcfcfd"/>
<path d="M380,75 L395,0"/>
<path d="M480,0 L465,110"/>
<path d="M325,100 L265,150"/>
<path d="M265,150 L400,205 L345,352 L235,352 L250,200 Z" fill="#fcfcfd"/>
<path d="M250,200 L235,352"/>
<path d="M415,520 L430,665 L560,640 L565,520 Z" fill="#fcfcfd"/>
<path d="M440,540 L450,660"/>
<path d="M345,237 L580,268 L520,335 L465,535 L280,470 L325,300 Z" fill="#fcfcfd"/>
<path d="M325,300 L520,335"/>
<path d="M345,237 L325,300"/>
<path d="M440,228 L480,232"/>
<path d="M525,335 L610,350 L620,380 L790,430 L805,485 L770,540 L600,498 L580,522 L470,510 Z" fill="#fcfcfd"/>
<path d="M490,420 L590,435 L585,470 L495,455"/>
<path d="M610,350 L600,498"/>
<ellipse cx="788" cy="485" rx="15" ry="55" transform="rotate(5 788 485)" fill="none"/>
<path d="M690,520 L700,535 L720,530"/>
</g><g transform="translate(495,1130) scale(0.18339)" fill="none" stroke="#1c1c1c" stroke-width="7.63" stroke-linejoin="round" stroke-linecap="round">
<path d="M620,385 L745,335 L872,398 L927,380 L927,470 L770,405 L690,430 Z" fill="#fcfcfd"/>
<path d="M745,335 L750,350 L868,410"/>
<path d="M690,362 L765,398"/>
<path d="M40,152 L130,168 L175,188 L245,195 L320,195 L515,268 L580,385 L690,430 L650,460 L580,490 L500,412 L470,575 L440,560 L360,430 L230,385 L140,375 L40,358 Z" stroke="none" fill="#fcfcfd"/>
<path d="M40,152 L130,168 L175,188 L245,195 L320,195 L515,268 L580,385 L690,430 L650,460 L580,490"/>
<path d="M500,412 L470,575 L440,560 L360,430 L230,385 L140,375 L40,358"/>
<path d="M165,215 L260,225 L395,268 L480,385 L500,412"/>
<path d="M40,198 L110,212 L130,200 L165,215"/>
<path d="M175,188 L165,215"/>
<path d="M170,215 L140,375"/>
<path d="M258,225 L232,385"/>
<path d="M392,270 L362,430"/>
<path d="M440,285 L490,280 L530,335 L485,345 Z"/>
<path d="M457,296 L485,292 L508,328 L488,334 Z"/>
<path d="M190,195 L215,200"/>
<ellipse cx="600" cy="432" rx="45" ry="17" transform="rotate(8 600 432)" fill="none"/>
<ellipse cx="600" cy="432" rx="27" ry="10" transform="rotate(8 600 432)" fill="none"/>
<path d="M545,400 L590,385"/>
<path d="M580,490 L565,440 L545,400"/>
<path d="M500,412 L462,650 L520,695 L585,700 L580,490 Z" fill="#fcfcfd"/>
<path d="M520,430 L495,500 L560,525"/>
<path d="M495,500 L470,640"/>
</g><g transform="translate(590,1200) scale(0.21575)" fill="none" stroke="#1c1c1c" stroke-width="6.49" stroke-linejoin="round" stroke-linecap="round">
<path d="M40,120 L50,100 L215,30 L330,75 L345,110 L345,330 L300,390 L190,365 L45,320 L20,250 Z" fill="#fcfcfd"/>
<path d="M50,100 L190,140 L330,75"/>
<path d="M190,140 L190,365"/>
<path d="M40,120 L185,152"/>
<path d="M62,135 L62,160 L48,165 L48,290 L62,295 L62,318 L172,350 L172,328 L185,325 L185,185 L172,180 L172,158 Z" stroke-linejoin="round"/>
<path d="M215,30 L222,45 L330,90"/>
<ellipse cx="75" cy="42" rx="38" ry="14" transform="rotate(8 75 42)" fill="none"/>
<ellipse cx="75" cy="42" rx="22" ry="8" transform="rotate(8 75 42)" fill="none"/>
<path d="M270,182 L330,150 L400,165 L470,192 L478,240 L468,335 L410,420 L300,390 L280,370 L200,350 L215,215 Z" fill="#fcfcfd"/>
<ellipse cx="345" cy="175" rx="40" ry="15" transform="rotate(8 345 175)" fill="none"/>
<ellipse cx="345" cy="175" rx="24" ry="8" transform="rotate(8 345 175)" fill="none"/>
<path d="M270,182 L285,215 L350,240 L362,188"/>
<path d="M285,215 L280,370"/>
<path d="M350,240 L330,375"/>
<path d="M340,245 L322,372" stroke-width="3.71"/>
<path d="M215,215 L285,232"/>
<path d="M362,188 L470,192"/>
<path d="M410,320 L440,335 L468,318"/>
<path d="M410,420 L412,330"/>
</g><g transform="translate(-305.2,1006.9) scale(1.41)"><g transform="translate(540,85) scale(0.26969)" fill="none" stroke="#1c1c1c" stroke-width="3.68" stroke-linejoin="round" stroke-linecap="round">
<path d="M305,405 L345,388 L460,425 L545,462 L556,480 L550,545 L500,585 L440,560 L440,520 L350,485 L310,465 Z" fill="#fcfcfd"/>
<path d="M305,405 L345,420 L440,470 L500,490 L556,480"/>
<path d="M345,420 L350,485"/>
<path d="M440,470 L440,520"/>
<path d="M500,490 L500,585"/>
<ellipse cx="498" cy="470" rx="26" ry="12" transform="rotate(5 498 470)" fill="none"/>
<ellipse cx="498" cy="471" rx="16" ry="7" transform="rotate(5 498 471)" fill="none"/>
<path d="M380,405 L385,460 L405,468 L405,440"/>
<path d="M345,388 L350,400 L380,405"/>
<path d="M362,396 L368,420"/>
<path d="M460,425 L440,470"/>
<path d="M378,535 L385,612 L470,612 L470,572 Z" fill="#fcfcfd"/>
<path d="M405,545 L410,612"/>
</g><g transform="translate(570,230) scale(0.19417)" fill="none" stroke="#1c1c1c" stroke-width="5.11" stroke-linejoin="round" stroke-linecap="round">
<path d="M440,300 L480,290 L570,560 L480,610 L455,590 L400,400 Z" fill="#fcfcfd"/>
<path d="M455,590 L470,640"/>
<path d="M385,35 L225,250 L250,268 L330,300 L360,348 L430,300 L520,192 L562,162 L582,112 L558,72 L520,68 L470,95 L470,45 Z" fill="#fcfcfd"/>
<path d="M410,100 L262,280"/>
<path d="M520,76 L338,302 M530,82 L348,308" stroke-width="4.12"/>
<circle cx="532" cy="128" r="28" fill="none"/>
<circle cx="532" cy="128" r="13" fill="none"/>
<path d="M375,297 L397,285 L367,327 Z"/>
<path d="M380,0 L380,22 L415,32 L415,100 L440,115 L445,48 L470,52 L476,25 L476,0 Z" fill="#fcfcfd"/>
<path d="M415,32 L445,48"/>
<path d="M130,340 L160,302 L225,265 L330,300 L355,345 L385,362 L440,395 L470,440 L482,520 L455,590 L470,640 L400,720 L345,700 L240,575 L235,545 L185,510 L155,470 Z" fill="#fcfcfd"/>
<path d="M195,345 L325,305"/>
<path d="M195,345 L240,480 L280,520 L320,580 L385,600 L400,560 L480,520"/>
<path d="M160,302 L195,345"/>
<path d="M240,480 L235,545"/>
<circle cx="298" cy="390" r="25" fill="none"/>
<circle cx="398" cy="405" r="26" fill="none"/>
<circle cx="438" cy="490" r="27" fill="none"/>
<circle cx="350" cy="525" r="26" fill="none"/>
<path d="M380,470 L450,430 L490,500 L420,550 Z"/>
<path d="M330,620 L345,700"/>
<path d="M385,640 L400,720"/>
<path d="M240,575 L330,620 L385,640 L470,640"/>
<path d="M430,600 L455,590"/>
<path d="M130,340 L150,385 L168,378 L160,345"/>
<path d="M150,385 L155,470"/>
<path d="M185,440 L215,455 L205,480"/>
<path d="M225,265 L250,300 L330,300"/>
</g></g></g>
<g transform="translate(740,1180) scale(0.18339)" fill="none" stroke="#1c1c1c" stroke-width="7.36" stroke-linejoin="round" stroke-linecap="round">
<path d="M540,320 L585,335 L620,335 L700,365 L735,410 L720,455 L680,468 L600,442 L570,430 L515,400 Q505,360 540,320 Z" fill="#fcfcfd"/>
<path d="M540,320 Q505,345 515,400"/>
<ellipse cx="590" cy="382" rx="19" ry="52" transform="rotate(15 590 382)" fill="none"/>
<ellipse cx="612" cy="390" rx="19" ry="52" transform="rotate(15 612 390)" fill="none"/>
<ellipse cx="702" cy="415" rx="31" ry="45" transform="rotate(15 702 415)" fill="#fcfcfd"/>
<ellipse cx="705" cy="417" rx="21" ry="32" transform="rotate(15 705 417)" fill="none"/>
</g>
<line x1="830.8" y1="1240.5" x2="772.1" y2="1215.8" stroke="#1c1c1c" stroke-width="1.6"/><polygon points="762.0,1211.5 773.8,1211.9 770.5,1219.6" fill="#1c1c1c"/>
<path d="M784,1331 L833.9,1255.2 L801.4,1331" fill="none" stroke="#1c1c1c" stroke-width="1.3" stroke-linejoin="miter"/>
<path d="M839,1331 L865.1,1269.9 L857.4,1331" fill="none" stroke="#1c1c1c" stroke-width="1.3" stroke-linejoin="miter"/>
<text class="l" x="836.4" y="1228.7" font-size="20.3" fill="#1c1c1c">B</text><circle cx="864.3" cy="1221.3" r="10.5" fill="#1b1919" stroke="none"/><text class="l" x="856.3" y="1227.2" font-size="16.5" font-weight="bold" fill="#fff" textLength="16" lengthAdjust="spacingAndGlyphs">11</text>
<rect x="221.7" y="141.2" width="127.8" height="26.1" rx="13.1" fill="#77757b"/>
<text class="j" x="227.5" y="160.4" font-size="15.4" fill="#fff" textLength="116" lengthAdjust="spacingAndGlyphs">右サイドユニット</text>
<rect x="783.3" y="124.7" width="98.9" height="26.2" rx="13.1" fill="#77757b"/>
<text class="j" x="788.8" y="144.1" font-size="15.4" fill="#fff" textLength="88.5" lengthAdjust="spacingAndGlyphs">中央ユニット</text>
<rect x="721.7" y="505.2" width="128.8" height="26.5" rx="13.3" fill="#77757b"/>
<text class="j" x="728.3" y="525" font-size="15.4" fill="#fff" textLength="116.4" lengthAdjust="spacingAndGlyphs">左サイドユニット</text>
<rect x="197.7" y="846.3" width="70.9" height="26.2" rx="13.1" fill="#77757b"/>
<text class="j" x="202.9" y="865.8" font-size="15.4" fill="#fff" textLength="59.5" lengthAdjust="spacingAndGlyphs">ステップ</text>
<rect x="39.0" y="1273.1" width="195.1" height="26.1" rx="13.1" fill="#77757b"/>
<text class="j" x="44.6" y="1292.5" font-size="15.4" fill="#fff" textLength="185" lengthAdjust="spacingAndGlyphs">エグゾスーツ・ユニット（広）</text>
<rect x="108.1" y="1391.5" width="231.4" height="26.5" rx="13.2" fill="#77757b"/>
<text class="j" x="113.1" y="1411.2" font-size="15.4" fill="#fff" textLength="222" lengthAdjust="spacingAndGlyphs">ニューフライングベース（別売り）</text>
<rect x="711.9" y="1132.2" width="165.0" height="26.4" rx="13.2" fill="#77757b"/>
<text class="j" x="717.5" y="1151.5" font-size="15.4" fill="#fff" textLength="153" lengthAdjust="spacingAndGlyphs">エグゾスーツ・ユニット</text>
<rect x="711.5" y="1331.5" width="185.5" height="28.7" rx="5.5" fill="#fcfcfd" stroke="#2a2a2a" stroke-width="1.3"/>
<text class="l" x="719.3" y="1353.2" font-size="17.5" fill="#1a1a1a" stroke="#1a1a1a" stroke-width="0.5" textLength="40.5" lengthAdjust="spacingAndGlyphs">3mm</text>
<text x="760.8" y="1353" font-size="15.8" font-weight="500" fill="#1a1a1a" textLength="125.5" lengthAdjust="spacingAndGlyphs" style="font-family:'Liberation Sans','Noto Sans CJK JP',sans-serif">軸として使用可能</text>
<text class="l" x="353.5" y="24.9" font-size="28" fill="#fff" stroke="#fff" stroke-width="4.7" stroke-linejoin="round" textLength="300" lengthAdjust="spacingAndGlyphs">Scanned by Dalong.net</text>
<text class="l" x="353.5" y="24.9" font-size="28" fill="#0a0a0a" stroke="#0a0a0a" stroke-width="0.9" stroke-linejoin="round" textLength="300" lengthAdjust="spacingAndGlyphs">Scanned by Dalong.net</text>
<text class="l" x="895" y="1458.7" font-size="13" fill="#1a1a1a">08</text>
</svg>
<div id="txt"><div style="left:44px;top:36px;font-size:19px">エグゾスーツ・ユニット(狭)の組み立て</div><div style="left:453px;top:40px;font-size:14px">※エグゾスーツ・ユニット（広）を選択した場合この項目は飛ばします。</div><div style="left:40px;top:1070px;font-size:20px">ニューフライングベース（別売り）の取り付け方</div><div style="left:495px;top:1071px;font-size:20px">オプションジョイントの取り付け方</div><div style="left:41px;top:1117px;font-size:13px">※エグゾスーツ・ユニット（狭）も同様に取り付けできます。</div><div style="left:228px;top:148px;font-size:15px">右サイドユニット</div><div style="left:790px;top:131px;font-size:15px">中央ユニット</div><div style="left:729px;top:512px;font-size:15px">左サイドユニット</div><div style="left:204px;top:853px;font-size:15px">ステップ</div><div style="left:46px;top:1280px;font-size:15px">エグゾスーツ・ユニット（広）</div><div style="left:115px;top:1399px;font-size:15px">ニューフライングベース（別売り）</div><div style="left:719px;top:1139px;font-size:15px">エグゾスーツ・ユニット</div><div style="left:761px;top:1340px;font-size:16px">軸として使用可能</div><div style="left:353px;top:3px;font-size:28px">Scanned by Dalong.net</div><div style="left:895px;top:1448px;font-size:12px">08</div><div style="left:719px;top:1339px;font-size:17px">3mm</div><div style="left:88px;top:280px;font-size:20px">B 4</div><div style="left:150px;top:313px;font-size:20px">B 3</div><div style="left:201px;top:303px;font-size:24px">!</div><div style="left:532px;top:248px;font-size:20px">B 14</div><div style="left:543px;top:488px;font-size:20px">B 14</div><div style="left:589px;top:530px;font-size:24px">!</div><div style="left:560px;top:604px;font-size:20px">B 3</div><div style="left:626px;top:633px;font-size:20px">B 4</div><div style="left:376px;top:707px;font-size:18px">2</div><div style="left:247px;top:757px;font-size:18px">1</div><div style="left:380px;top:814px;font-size:18px">2</div><div style="left:837px;top:1213px;font-size:20px">B 11</div></div>
</div>
</body></html>
